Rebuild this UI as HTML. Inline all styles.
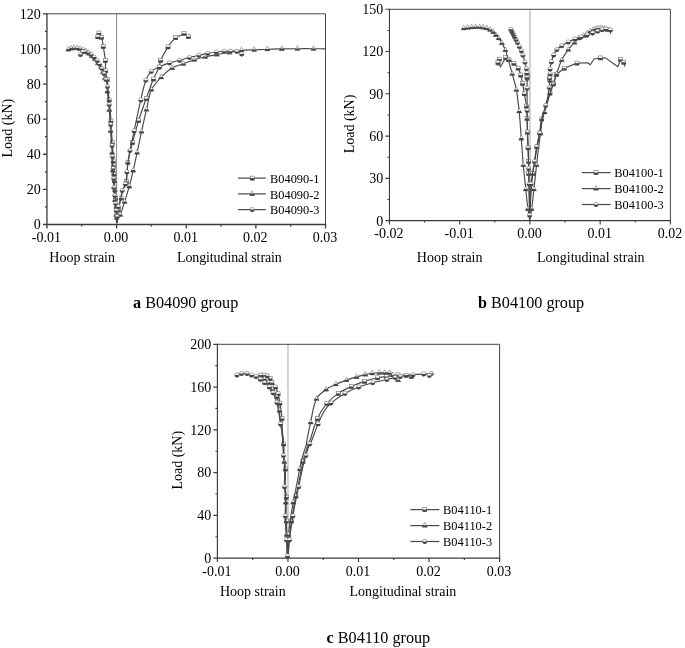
<!DOCTYPE html>
<html><head><meta charset="utf-8"><title>Load-strain curves</title>
<style>html,body{margin:0;padding:0;background:#fff}svg{display:block}text{font-family:"Liberation Serif",serif;fill:#000}</style>
</head><body>
<svg width="685" height="648" viewBox="0 0 685 648">
<rect width="685" height="648" fill="#fff"/>
<g id="chart-a">
<line x1="116.59" y1="13.8" x2="116.59" y2="224.5" stroke="#8a8a8a" stroke-width="1.0"/>
<g transform="translate(0,0.6)">
<path d="M97.8 36.2L98.9 32.4C98.9 32.4 101.09 35.09 101.6 36.7C102.54 39.67 102.7 42.83 103.2 45.9C103.97 50.59 104.93 55.27 105.4 60C105.73 63.38 105.28 66.81 105.6 70.2C105.88 73.14 106.64 76.01 107.2 78.9C107.27 79.27 107.47 79.62 107.5 80C107.77 83.33 107.82 86.67 108.1 90C108.35 93.01 108.78 96 109.1 99C109.42 102 109.73 105 110 108C110.3 111.33 110.58 114.66 110.8 118C111.02 121.33 111.1 124.67 111.3 128C111.54 132 111.83 136 112.1 140C112.33 143.33 112.63 146.66 112.8 150C112.97 153.33 112.95 156.67 113.1 160C113.28 164 113.56 168 113.8 172C114.06 176.33 114.32 180.67 114.6 185C114.82 188.33 115.02 191.67 115.3 195C115.52 197.67 115.86 200.33 116.1 203C116.36 206 116.61 209 116.8 212C117.01 215.33 117.3 222 117.3 222C117.3 222 117.27 215.32 117.6 212C117.8 210 118.42 208.06 118.9 206.1C119.58 203.32 120.46 200.59 121.1 197.8C121.7 195.19 121.77 192.45 122.6 189.9C123.28 187.8 124.7 186.02 125.6 184C126.04 183.01 126.46 181.98 126.6 180.9C127 177.75 126.99 174.57 127.2 171.4C127.42 168.17 127.42 164.91 127.9 161.7C128.49 157.76 129.49 153.88 130.4 150C131.03 147.32 131.77 144.66 132.5 142C134.51 134.66 136.34 127.27 138.6 120C140.91 112.59 143.6 105.31 146.2 98C148.53 91.44 150.75 84.84 153.4 78.4C155.09 74.29 157.58 70.54 159.2 66.4C160.03 64.27 159.78 61.8 160.7 59.7C162.74 55.04 165.19 50.54 168 46.3C170.21 42.97 172.78 39.83 175.7 37.1C176.82 36.05 178.54 35.91 179.9 35.2C181.31 34.47 184 32.8 184 32.8L188.4 36" fill="none" stroke="#484848" stroke-width="1.15" stroke-linejoin="round"/>
<rect x="107.14" y="97.4" width="4" height="4" fill="#fff" stroke="#666" stroke-width="0.55"/>
<rect x="106.94" y="99.4" width="4.4" height="2.2" fill="#444"/>
<rect x="108.92" y="118.5" width="4" height="4" fill="#fff" stroke="#666" stroke-width="0.55"/>
<rect x="108.72" y="120.5" width="4.4" height="2.2" fill="#444"/>
<rect x="110.25" y="140.1" width="4" height="4" fill="#fff" stroke="#666" stroke-width="0.55"/>
<rect x="110.05" y="142.1" width="4.4" height="2.2" fill="#444"/>
<rect x="111.13" y="158.5" width="4" height="4" fill="#fff" stroke="#666" stroke-width="0.55"/>
<rect x="110.93" y="160.5" width="4.4" height="2.2" fill="#444"/>
<rect x="111.38" y="162.8" width="4" height="4" fill="#fff" stroke="#666" stroke-width="0.55"/>
<rect x="111.18" y="164.8" width="4.4" height="2.2" fill="#444"/>
<rect x="111.89" y="171.5" width="4" height="4" fill="#fff" stroke="#666" stroke-width="0.55"/>
<rect x="111.69" y="173.5" width="4.4" height="2.2" fill="#444"/>
<rect x="112.3" y="178.2" width="4" height="4" fill="#fff" stroke="#666" stroke-width="0.55"/>
<rect x="112.1" y="180.2" width="4.4" height="2.2" fill="#444"/>
<rect x="112.91" y="187.5" width="4" height="4" fill="#fff" stroke="#666" stroke-width="0.55"/>
<rect x="112.71" y="189.5" width="4.4" height="2.2" fill="#444"/>
<rect x="113.55" y="195.5" width="4" height="4" fill="#fff" stroke="#666" stroke-width="0.55"/>
<rect x="113.35" y="197.5" width="4.4" height="2.2" fill="#444"/>
<rect x="114.35" y="204.2" width="4" height="4" fill="#fff" stroke="#666" stroke-width="0.55"/>
<rect x="114.15" y="206.2" width="4.4" height="2.2" fill="#444"/>
<rect x="114.9" y="212" width="4" height="4" fill="#fff" stroke="#666" stroke-width="0.55"/>
<rect x="114.7" y="214" width="4.4" height="2.2" fill="#444"/>
<rect x="105.2" y="76.9" width="4" height="4" fill="#fff" stroke="#666" stroke-width="0.55"/>
<rect x="105" y="78.9" width="4.4" height="2.2" fill="#444"/>
<rect x="103.6" y="68.2" width="4" height="4" fill="#fff" stroke="#666" stroke-width="0.55"/>
<rect x="103.4" y="70.2" width="4.4" height="2.2" fill="#444"/>
<rect x="103.4" y="58" width="4" height="4" fill="#fff" stroke="#666" stroke-width="0.55"/>
<rect x="103.2" y="60" width="4.4" height="2.2" fill="#444"/>
<rect x="101.2" y="43.9" width="4" height="4" fill="#fff" stroke="#666" stroke-width="0.55"/>
<rect x="101" y="45.9" width="4.4" height="2.2" fill="#444"/>
<rect x="99.6" y="34.7" width="4" height="4" fill="#fff" stroke="#666" stroke-width="0.55"/>
<rect x="99.4" y="36.7" width="4.4" height="2.2" fill="#444"/>
<rect x="96.9" y="30.4" width="4" height="4" fill="#fff" stroke="#666" stroke-width="0.55"/>
<rect x="96.7" y="32.4" width="4.4" height="2.2" fill="#444"/>
<rect x="95.8" y="34.2" width="4" height="4" fill="#fff" stroke="#666" stroke-width="0.55"/>
<rect x="95.6" y="36.2" width="4.4" height="2.2" fill="#444"/>
<rect x="144.2" y="96" width="4" height="4" fill="#fff" stroke="#666" stroke-width="0.55"/>
<rect x="144" y="98" width="4.4" height="2.2" fill="#444"/>
<rect x="136.6" y="118" width="4" height="4" fill="#fff" stroke="#666" stroke-width="0.55"/>
<rect x="136.4" y="120" width="4.4" height="2.2" fill="#444"/>
<rect x="130.5" y="140" width="4" height="4" fill="#fff" stroke="#666" stroke-width="0.55"/>
<rect x="130.3" y="142" width="4.4" height="2.2" fill="#444"/>
<rect x="125.9" y="159.7" width="4" height="4" fill="#fff" stroke="#666" stroke-width="0.55"/>
<rect x="125.7" y="161.7" width="4.4" height="2.2" fill="#444"/>
<rect x="124.6" y="178.9" width="4" height="4" fill="#fff" stroke="#666" stroke-width="0.55"/>
<rect x="124.4" y="180.9" width="4.4" height="2.2" fill="#444"/>
<rect x="119.16" y="195.5" width="4" height="4" fill="#fff" stroke="#666" stroke-width="0.55"/>
<rect x="118.96" y="197.5" width="4.4" height="2.2" fill="#444"/>
<rect x="116.26" y="207" width="4" height="4" fill="#fff" stroke="#666" stroke-width="0.55"/>
<rect x="116.06" y="209" width="4.4" height="2.2" fill="#444"/>
<rect x="151.4" y="76.4" width="4" height="4" fill="#fff" stroke="#666" stroke-width="0.55"/>
<rect x="151.2" y="78.4" width="4.4" height="2.2" fill="#444"/>
<rect x="157.2" y="64.4" width="4" height="4" fill="#fff" stroke="#666" stroke-width="0.55"/>
<rect x="157" y="66.4" width="4.4" height="2.2" fill="#444"/>
<rect x="158.7" y="57.7" width="4" height="4" fill="#fff" stroke="#666" stroke-width="0.55"/>
<rect x="158.5" y="59.7" width="4.4" height="2.2" fill="#444"/>
<rect x="166" y="44.3" width="4" height="4" fill="#fff" stroke="#666" stroke-width="0.55"/>
<rect x="165.8" y="46.3" width="4.4" height="2.2" fill="#444"/>
<rect x="173.7" y="35.1" width="4" height="4" fill="#fff" stroke="#666" stroke-width="0.55"/>
<rect x="173.5" y="37.1" width="4.4" height="2.2" fill="#444"/>
<rect x="182" y="30.8" width="4" height="4" fill="#fff" stroke="#666" stroke-width="0.55"/>
<rect x="181.8" y="32.8" width="4.4" height="2.2" fill="#444"/>
<rect x="186.4" y="34" width="4" height="4" fill="#fff" stroke="#666" stroke-width="0.55"/>
<rect x="186.2" y="36" width="4.4" height="2.2" fill="#444"/>
<path d="M68.4 48.8C68.4 48.8 70.1 48.01 71 47.8C71.98 47.57 73 47.52 74 47.5C75 47.48 76.01 47.57 77 47.7C78.01 47.83 79.01 48.04 80 48.3C81.02 48.57 82.03 48.89 83 49.3C84.03 49.73 85.03 50.24 86 50.8C87.04 51.41 88.05 52.06 89 52.8C90.06 53.63 91.02 54.57 92 55.5C93.03 56.47 94.08 57.43 95 58.5C96.08 59.77 97 61.17 98 62.5C99 63.83 100.19 65.04 101 66.5C101.87 68.07 102.39 69.81 103 71.5C103.72 73.48 104.16 75.57 105 77.5C105.4 78.42 106.52 79.01 106.7 80C107.3 83.28 107.02 86.67 107.3 90C107.55 93.01 107.98 96 108.3 99C108.62 102 108.93 105 109.2 108C109.5 111.33 109.78 114.66 110 118C110.22 121.33 110.3 124.67 110.5 128C110.74 132 111.03 136 111.3 140C111.53 143.33 111.83 146.66 112 150C112.17 153.33 112.15 156.67 112.3 160C112.48 164 112.76 168 113 172C113.26 176.33 113.52 180.67 113.8 185C114.02 188.33 114.22 191.67 114.5 195C114.72 197.67 115.06 200.33 115.3 203C115.56 206 115.81 209 116 212C116.21 215.33 116.5 222 116.5 222C116.5 222 119.16 216.88 120.2 214.2C121.86 209.94 123.2 205.56 124.6 201.2C126.24 196.09 127.88 190.98 129.3 185.8C130.75 180.51 131.97 175.15 133.2 169.8C134.71 163.22 136.09 156.6 137.5 150C138.85 143.67 140.11 137.32 141.5 131C143.11 123.65 144.76 116.32 146.5 109C148.09 102.32 148.68 95.27 151.5 89C153.65 84.23 157.5 80.39 161.1 76.6C164.37 73.15 167.94 69.87 172 67.4C175.44 65.31 179.53 64.51 183.3 63.1C186.93 61.74 190.51 60.26 194.2 59.1C197.82 57.96 201.5 57.05 205.2 56.2C209.07 55.31 212.99 54.61 216.9 53.9C221.02 53.15 225.17 52.51 229.3 51.8C233.33 51.11 237.33 50.13 241.4 49.7C245.65 49.26 249.93 49.38 254.2 49.2C258.6 49.01 263 48.74 267.4 48.6C272.2 48.44 277 48.38 281.8 48.3C287 48.21 292.2 48.13 297.4 48.1C302.77 48.07 308.13 48.06 313.5 48.1C317.5 48.13 325.5 48.3 325.5 48.3" fill="none" stroke="#484848" stroke-width="1.15" stroke-linejoin="round"/>
<path d="M107.39 87.7L109.84 92.35L104.94 92.35Z" fill="#fff" stroke="#666" stroke-width="0.55" stroke-linejoin="round"/>
<path d="M105.76 90.5L109.01 90.5L110.09 92.55L104.69 92.55Z" fill="#444"/>
<path d="M109.3 106.1L111.75 110.75L106.85 110.75Z" fill="#fff" stroke="#666" stroke-width="0.55" stroke-linejoin="round"/>
<path d="M107.67 108.9L110.92 108.9L112 110.95L106.6 110.95Z" fill="#444"/>
<path d="M110.65 127.1L113.1 131.75L108.2 131.75Z" fill="#fff" stroke="#666" stroke-width="0.55" stroke-linejoin="round"/>
<path d="M109.02 129.9L112.27 129.9L113.35 131.95L107.95 131.95Z" fill="#444"/>
<path d="M112.06 148.8L114.51 153.45L109.61 153.45Z" fill="#fff" stroke="#666" stroke-width="0.55" stroke-linejoin="round"/>
<path d="M110.43 151.6L113.68 151.6L114.76 153.65L109.36 153.65Z" fill="#444"/>
<path d="M112.87 166.7L115.32 171.35L110.42 171.35Z" fill="#fff" stroke="#666" stroke-width="0.55" stroke-linejoin="round"/>
<path d="M111.25 169.5L114.5 169.5L115.57 171.55L110.17 171.55Z" fill="#444"/>
<path d="M113.9 183.3L116.35 187.95L111.45 187.95Z" fill="#fff" stroke="#666" stroke-width="0.55" stroke-linejoin="round"/>
<path d="M112.27 186.1L115.52 186.1L116.6 188.15L111.2 188.15Z" fill="#444"/>
<path d="M114.94 196.3L117.39 200.95L112.49 200.95Z" fill="#fff" stroke="#666" stroke-width="0.55" stroke-linejoin="round"/>
<path d="M113.31 199.1L116.57 199.1L117.64 201.15L112.24 201.15Z" fill="#444"/>
<path d="M116.11 211.1L118.56 215.75L113.66 215.75Z" fill="#fff" stroke="#666" stroke-width="0.55" stroke-linejoin="round"/>
<path d="M114.48 213.9L117.74 213.9L118.81 215.95L113.41 215.95Z" fill="#444"/>
<path d="M105 74.4L107.45 79.05L102.55 79.05Z" fill="#fff" stroke="#666" stroke-width="0.55" stroke-linejoin="round"/>
<path d="M103.37 77.2L106.63 77.2L107.7 79.25L102.3 79.25Z" fill="#444"/>
<path d="M103 68.4L105.45 73.05L100.55 73.05Z" fill="#fff" stroke="#666" stroke-width="0.55" stroke-linejoin="round"/>
<path d="M101.37 71.2L104.63 71.2L105.7 73.25L100.3 73.25Z" fill="#444"/>
<path d="M101 63.4L103.45 68.05L98.55 68.05Z" fill="#fff" stroke="#666" stroke-width="0.55" stroke-linejoin="round"/>
<path d="M99.37 66.2L102.63 66.2L103.7 68.25L98.3 68.25Z" fill="#444"/>
<path d="M98 59.4L100.45 64.05L95.55 64.05Z" fill="#fff" stroke="#666" stroke-width="0.55" stroke-linejoin="round"/>
<path d="M96.37 62.2L99.63 62.2L100.7 64.25L95.3 64.25Z" fill="#444"/>
<path d="M95 55.4L97.45 60.05L92.55 60.05Z" fill="#fff" stroke="#666" stroke-width="0.55" stroke-linejoin="round"/>
<path d="M93.37 58.2L96.63 58.2L97.7 60.25L92.3 60.25Z" fill="#444"/>
<path d="M92 52.4L94.45 57.05L89.55 57.05Z" fill="#fff" stroke="#666" stroke-width="0.55" stroke-linejoin="round"/>
<path d="M90.37 55.2L93.63 55.2L94.7 57.25L89.3 57.25Z" fill="#444"/>
<path d="M89 49.7L91.45 54.35L86.55 54.35Z" fill="#fff" stroke="#666" stroke-width="0.55" stroke-linejoin="round"/>
<path d="M87.37 52.5L90.63 52.5L91.7 54.55L86.3 54.55Z" fill="#444"/>
<path d="M86 47.7L88.45 52.35L83.55 52.35Z" fill="#fff" stroke="#666" stroke-width="0.55" stroke-linejoin="round"/>
<path d="M84.37 50.5L87.63 50.5L88.7 52.55L83.3 52.55Z" fill="#444"/>
<path d="M83 46.2L85.45 50.85L80.55 50.85Z" fill="#fff" stroke="#666" stroke-width="0.55" stroke-linejoin="round"/>
<path d="M81.37 49L84.63 49L85.7 51.05L80.3 51.05Z" fill="#444"/>
<path d="M80 45.2L82.45 49.85L77.55 49.85Z" fill="#fff" stroke="#666" stroke-width="0.55" stroke-linejoin="round"/>
<path d="M78.37 48L81.63 48L82.7 50.05L77.3 50.05Z" fill="#444"/>
<path d="M77 44.6L79.45 49.25L74.55 49.25Z" fill="#fff" stroke="#666" stroke-width="0.55" stroke-linejoin="round"/>
<path d="M75.37 47.4L78.63 47.4L79.7 49.45L74.3 49.45Z" fill="#444"/>
<path d="M74 44.4L76.45 49.05L71.55 49.05Z" fill="#fff" stroke="#666" stroke-width="0.55" stroke-linejoin="round"/>
<path d="M72.37 47.2L75.63 47.2L76.7 49.25L71.3 49.25Z" fill="#444"/>
<path d="M71 44.7L73.45 49.35L68.55 49.35Z" fill="#fff" stroke="#666" stroke-width="0.55" stroke-linejoin="round"/>
<path d="M69.37 47.5L72.63 47.5L73.7 49.55L68.3 49.55Z" fill="#444"/>
<path d="M68.4 45.7L70.85 50.35L65.95 50.35Z" fill="#fff" stroke="#666" stroke-width="0.55" stroke-linejoin="round"/>
<path d="M66.77 48.5L70.03 48.5L71.1 50.55L65.7 50.55Z" fill="#444"/>
<path d="M146.5 105.9L148.95 110.55L144.05 110.55Z" fill="#fff" stroke="#666" stroke-width="0.55" stroke-linejoin="round"/>
<path d="M144.87 108.7L148.13 108.7L149.2 110.75L143.8 110.75Z" fill="#444"/>
<path d="M141.5 127.9L143.95 132.55L139.05 132.55Z" fill="#fff" stroke="#666" stroke-width="0.55" stroke-linejoin="round"/>
<path d="M139.87 130.7L143.13 130.7L144.2 132.75L138.8 132.75Z" fill="#444"/>
<path d="M137.09 148.8L139.54 153.45L134.64 153.45Z" fill="#fff" stroke="#666" stroke-width="0.55" stroke-linejoin="round"/>
<path d="M135.46 151.6L138.71 151.6L139.79 153.65L134.39 153.65Z" fill="#444"/>
<path d="M133.2 166.7L135.65 171.35L130.75 171.35Z" fill="#fff" stroke="#666" stroke-width="0.55" stroke-linejoin="round"/>
<path d="M131.57 169.5L134.83 169.5L135.9 171.55L130.5 171.55Z" fill="#444"/>
<path d="M129.3 182.7L131.75 187.35L126.85 187.35Z" fill="#fff" stroke="#666" stroke-width="0.55" stroke-linejoin="round"/>
<path d="M127.67 185.5L130.93 185.5L132 187.55L126.6 187.55Z" fill="#444"/>
<path d="M124.6 198.1L127.05 202.75L122.15 202.75Z" fill="#fff" stroke="#666" stroke-width="0.55" stroke-linejoin="round"/>
<path d="M122.97 200.9L126.23 200.9L127.3 202.95L121.9 202.95Z" fill="#444"/>
<path d="M120.2 211.1L122.65 215.75L117.75 215.75Z" fill="#fff" stroke="#666" stroke-width="0.55" stroke-linejoin="round"/>
<path d="M118.57 213.9L121.83 213.9L122.9 215.95L117.5 215.95Z" fill="#444"/>
<path d="M151.5 85.9L153.95 90.55L149.05 90.55Z" fill="#fff" stroke="#666" stroke-width="0.55" stroke-linejoin="round"/>
<path d="M149.87 88.7L153.13 88.7L154.2 90.75L148.8 90.75Z" fill="#444"/>
<path d="M161.1 73.5L163.55 78.15L158.65 78.15Z" fill="#fff" stroke="#666" stroke-width="0.55" stroke-linejoin="round"/>
<path d="M159.47 76.3L162.73 76.3L163.8 78.35L158.4 78.35Z" fill="#444"/>
<path d="M172 64.3L174.45 68.95L169.55 68.95Z" fill="#fff" stroke="#666" stroke-width="0.55" stroke-linejoin="round"/>
<path d="M170.37 67.1L173.63 67.1L174.7 69.15L169.3 69.15Z" fill="#444"/>
<path d="M183.3 60L185.75 64.65L180.85 64.65Z" fill="#fff" stroke="#666" stroke-width="0.55" stroke-linejoin="round"/>
<path d="M181.67 62.8L184.93 62.8L186 64.85L180.6 64.85Z" fill="#444"/>
<path d="M194.2 56L196.65 60.65L191.75 60.65Z" fill="#fff" stroke="#666" stroke-width="0.55" stroke-linejoin="round"/>
<path d="M192.57 58.8L195.83 58.8L196.9 60.85L191.5 60.85Z" fill="#444"/>
<path d="M205.2 53.1L207.65 57.75L202.75 57.75Z" fill="#fff" stroke="#666" stroke-width="0.55" stroke-linejoin="round"/>
<path d="M203.57 55.9L206.83 55.9L207.9 57.95L202.5 57.95Z" fill="#444"/>
<path d="M216.9 50.8L219.35 55.45L214.45 55.45Z" fill="#fff" stroke="#666" stroke-width="0.55" stroke-linejoin="round"/>
<path d="M215.27 53.6L218.53 53.6L219.6 55.65L214.2 55.65Z" fill="#444"/>
<path d="M229.3 48.7L231.75 53.35L226.85 53.35Z" fill="#fff" stroke="#666" stroke-width="0.55" stroke-linejoin="round"/>
<path d="M227.67 51.5L230.93 51.5L232 53.55L226.6 53.55Z" fill="#444"/>
<path d="M241.4 46.6L243.85 51.25L238.95 51.25Z" fill="#fff" stroke="#666" stroke-width="0.55" stroke-linejoin="round"/>
<path d="M239.77 49.4L243.03 49.4L244.1 51.45L238.7 51.45Z" fill="#444"/>
<path d="M254.2 46.1L256.65 50.75L251.75 50.75Z" fill="#fff" stroke="#666" stroke-width="0.55" stroke-linejoin="round"/>
<path d="M252.57 48.9L255.83 48.9L256.9 50.95L251.5 50.95Z" fill="#444"/>
<path d="M267.4 45.5L269.85 50.15L264.95 50.15Z" fill="#fff" stroke="#666" stroke-width="0.55" stroke-linejoin="round"/>
<path d="M265.77 48.3L269.03 48.3L270.1 50.35L264.7 50.35Z" fill="#444"/>
<path d="M281.8 45.2L284.25 49.85L279.35 49.85Z" fill="#fff" stroke="#666" stroke-width="0.55" stroke-linejoin="round"/>
<path d="M280.17 48L283.43 48L284.5 50.05L279.1 50.05Z" fill="#444"/>
<path d="M297.4 45L299.85 49.65L294.95 49.65Z" fill="#fff" stroke="#666" stroke-width="0.55" stroke-linejoin="round"/>
<path d="M295.77 47.8L299.03 47.8L300.1 49.85L294.7 49.85Z" fill="#444"/>
<path d="M313.5 45L315.95 49.65L311.05 49.65Z" fill="#fff" stroke="#666" stroke-width="0.55" stroke-linejoin="round"/>
<path d="M311.87 47.8L315.13 47.8L316.2 49.85L310.8 49.85Z" fill="#444"/>
<path d="M80.5 54L82.7 51.3C82.7 51.3 84.23 50.9 85 51C86.05 51.14 87.06 51.53 88 52C89.07 52.54 90.04 53.28 91 54C92.04 54.78 93.08 55.58 94 56.5C95.09 57.59 96.05 58.79 97 60C97.89 61.13 98.74 62.28 99.5 63.5C100.41 64.96 101.27 66.45 102 68C102.77 69.62 103.39 71.31 104 73C104.72 74.98 105.15 77.07 106 79C106.2 79.45 107.1 80 107.1 80C107.1 80 107.42 86.67 107.7 90C107.95 93.01 108.38 96 108.7 99C109.02 102 109.33 105 109.6 108C109.9 111.33 110.18 114.66 110.4 118C110.62 121.33 110.7 124.67 110.9 128C111.14 132 111.43 136 111.7 140C111.93 143.33 112.23 146.66 112.4 150C112.57 153.33 112.55 156.67 112.7 160C112.88 164 113.16 168 113.4 172C113.66 176.33 113.92 180.67 114.2 185C114.42 188.33 114.62 191.67 114.9 195C115.12 197.67 115.46 200.33 115.7 203C115.96 206 116.21 209 116.4 212C116.61 215.33 116.9 222 116.9 222C116.9 222 116.97 215.32 117.3 212C117.5 210 118.02 208.05 118.5 206.1C119.19 203.31 120.16 200.6 120.8 197.8C121.4 195.19 121.36 192.44 122.2 189.9C122.85 187.95 124.43 186.41 125.2 184.5C125.78 183.08 126 181.52 126.2 180C126.57 177.15 126.6 174.26 126.9 171.4C127.3 167.59 127.75 163.79 128.3 160C128.78 156.65 129.35 153.32 130 150C131.25 143.65 132.67 137.33 134 131C135.61 123.33 137.05 115.63 138.8 108C140.98 98.5 142.69 88.84 145.8 79.6C146.9 76.32 148.84 73.23 151.3 70.8C153.45 68.68 156.47 67.68 159.2 66.4C162.52 64.84 165.92 63.44 169.4 62.3C172.73 61.21 176.21 60.61 179.6 59.7C182.88 58.81 186.11 57.75 189.4 56.9C192.55 56.08 195.73 55.43 198.9 54.7C201.83 54.03 204.74 53.26 207.7 52.7C210.58 52.16 213.49 51.75 216.4 51.4C218.99 51.09 221.59 50.85 224.2 50.7C226.26 50.58 228.33 50.58 230.4 50.6C232.57 50.62 234.8 50.28 236.9 50.8C238.67 51.24 241.7 53.4 241.7 53.4" fill="none" stroke="#484848" stroke-width="1.15" stroke-linejoin="round"/>
<circle cx="107.46" cy="86" r="2.2" fill="#fff" stroke="#666" stroke-width="0.55"/>
<path d="M105.06 86A2.4 2.4 0 0 0 109.86 86Z" fill="#444"/>
<circle cx="109.2" cy="104" r="2.2" fill="#fff" stroke="#666" stroke-width="0.55"/>
<path d="M106.8 104A2.4 2.4 0 0 0 111.6 104Z" fill="#444"/>
<circle cx="110.7" cy="124" r="2.2" fill="#fff" stroke="#666" stroke-width="0.55"/>
<path d="M108.3 124A2.4 2.4 0 0 0 113.1 124Z" fill="#444"/>
<circle cx="112.05" cy="145" r="2.2" fill="#fff" stroke="#666" stroke-width="0.55"/>
<path d="M109.65 145A2.4 2.4 0 0 0 114.45 145Z" fill="#444"/>
<circle cx="112.58" cy="156" r="2.2" fill="#fff" stroke="#666" stroke-width="0.55"/>
<path d="M110.18 156A2.4 2.4 0 0 0 114.98 156Z" fill="#444"/>
<circle cx="113.17" cy="168" r="2.2" fill="#fff" stroke="#666" stroke-width="0.55"/>
<path d="M110.77 168A2.4 2.4 0 0 0 115.57 168Z" fill="#444"/>
<circle cx="113.77" cy="178" r="2.2" fill="#fff" stroke="#666" stroke-width="0.55"/>
<path d="M111.37 178A2.4 2.4 0 0 0 116.17 178Z" fill="#444"/>
<circle cx="114.34" cy="187" r="2.2" fill="#fff" stroke="#666" stroke-width="0.55"/>
<path d="M111.94 187A2.4 2.4 0 0 0 116.74 187Z" fill="#444"/>
<circle cx="114.9" cy="195" r="2.2" fill="#fff" stroke="#666" stroke-width="0.55"/>
<path d="M112.5 195A2.4 2.4 0 0 0 117.3 195Z" fill="#444"/>
<circle cx="115.7" cy="203" r="2.2" fill="#fff" stroke="#666" stroke-width="0.55"/>
<path d="M113.3 203A2.4 2.4 0 0 0 118.1 203Z" fill="#444"/>
<circle cx="116.24" cy="210" r="2.2" fill="#fff" stroke="#666" stroke-width="0.55"/>
<path d="M113.84 210A2.4 2.4 0 0 0 118.64 210Z" fill="#444"/>
<circle cx="116.68" cy="217.5" r="2.2" fill="#fff" stroke="#666" stroke-width="0.55"/>
<path d="M114.28 217.5A2.4 2.4 0 0 0 119.08 217.5Z" fill="#444"/>
<circle cx="106" cy="79" r="2.2" fill="#fff" stroke="#666" stroke-width="0.55"/>
<path d="M103.6 79A2.4 2.4 0 0 0 108.4 79Z" fill="#444"/>
<circle cx="104" cy="73" r="2.2" fill="#fff" stroke="#666" stroke-width="0.55"/>
<path d="M101.6 73A2.4 2.4 0 0 0 106.4 73Z" fill="#444"/>
<circle cx="102" cy="68" r="2.2" fill="#fff" stroke="#666" stroke-width="0.55"/>
<path d="M99.6 68A2.4 2.4 0 0 0 104.4 68Z" fill="#444"/>
<circle cx="99.5" cy="63.5" r="2.2" fill="#fff" stroke="#666" stroke-width="0.55"/>
<path d="M97.1 63.5A2.4 2.4 0 0 0 101.9 63.5Z" fill="#444"/>
<circle cx="97" cy="60" r="2.2" fill="#fff" stroke="#666" stroke-width="0.55"/>
<path d="M94.6 60A2.4 2.4 0 0 0 99.4 60Z" fill="#444"/>
<circle cx="94" cy="56.5" r="2.2" fill="#fff" stroke="#666" stroke-width="0.55"/>
<path d="M91.6 56.5A2.4 2.4 0 0 0 96.4 56.5Z" fill="#444"/>
<circle cx="91" cy="54" r="2.2" fill="#fff" stroke="#666" stroke-width="0.55"/>
<path d="M88.6 54A2.4 2.4 0 0 0 93.4 54Z" fill="#444"/>
<circle cx="88" cy="52" r="2.2" fill="#fff" stroke="#666" stroke-width="0.55"/>
<path d="M85.6 52A2.4 2.4 0 0 0 90.4 52Z" fill="#444"/>
<circle cx="85" cy="51" r="2.2" fill="#fff" stroke="#666" stroke-width="0.55"/>
<path d="M82.6 51A2.4 2.4 0 0 0 87.4 51Z" fill="#444"/>
<circle cx="82.7" cy="51.3" r="2.2" fill="#fff" stroke="#666" stroke-width="0.55"/>
<path d="M80.3 51.3A2.4 2.4 0 0 0 85.1 51.3Z" fill="#444"/>
<circle cx="80.5" cy="54" r="2.2" fill="#fff" stroke="#666" stroke-width="0.55"/>
<path d="M78.1 54A2.4 2.4 0 0 0 82.9 54Z" fill="#444"/>
<circle cx="140.92" cy="99.4" r="2.2" fill="#fff" stroke="#666" stroke-width="0.55"/>
<path d="M138.52 99.4A2.4 2.4 0 0 0 143.32 99.4Z" fill="#444"/>
<circle cx="134.15" cy="130.3" r="2.2" fill="#fff" stroke="#666" stroke-width="0.55"/>
<path d="M131.75 130.3A2.4 2.4 0 0 0 136.55 130.3Z" fill="#444"/>
<circle cx="130" cy="150" r="2.2" fill="#fff" stroke="#666" stroke-width="0.55"/>
<path d="M127.6 150A2.4 2.4 0 0 0 132.4 150Z" fill="#444"/>
<circle cx="126.9" cy="171.4" r="2.2" fill="#fff" stroke="#666" stroke-width="0.55"/>
<path d="M124.5 171.4A2.4 2.4 0 0 0 129.3 171.4Z" fill="#444"/>
<circle cx="125.44" cy="183.4" r="2.2" fill="#fff" stroke="#666" stroke-width="0.55"/>
<path d="M123.04 183.4A2.4 2.4 0 0 0 127.84 183.4Z" fill="#444"/>
<circle cx="122.2" cy="189.9" r="2.2" fill="#fff" stroke="#666" stroke-width="0.55"/>
<path d="M119.8 189.9A2.4 2.4 0 0 0 124.6 189.9Z" fill="#444"/>
<circle cx="118.5" cy="206.1" r="2.2" fill="#fff" stroke="#666" stroke-width="0.55"/>
<path d="M116.1 206.1A2.4 2.4 0 0 0 120.9 206.1Z" fill="#444"/>
<circle cx="116.98" cy="216" r="2.2" fill="#fff" stroke="#666" stroke-width="0.55"/>
<path d="M114.58 216A2.4 2.4 0 0 0 119.38 216Z" fill="#444"/>
<circle cx="145.8" cy="79.6" r="2.2" fill="#fff" stroke="#666" stroke-width="0.55"/>
<path d="M143.4 79.6A2.4 2.4 0 0 0 148.2 79.6Z" fill="#444"/>
<circle cx="151.3" cy="70.8" r="2.2" fill="#fff" stroke="#666" stroke-width="0.55"/>
<path d="M148.9 70.8A2.4 2.4 0 0 0 153.7 70.8Z" fill="#444"/>
<circle cx="159.2" cy="66.4" r="2.2" fill="#fff" stroke="#666" stroke-width="0.55"/>
<path d="M156.8 66.4A2.4 2.4 0 0 0 161.6 66.4Z" fill="#444"/>
<circle cx="169.4" cy="62.3" r="2.2" fill="#fff" stroke="#666" stroke-width="0.55"/>
<path d="M167 62.3A2.4 2.4 0 0 0 171.8 62.3Z" fill="#444"/>
<circle cx="179.6" cy="59.7" r="2.2" fill="#fff" stroke="#666" stroke-width="0.55"/>
<path d="M177.2 59.7A2.4 2.4 0 0 0 182 59.7Z" fill="#444"/>
<circle cx="189.4" cy="56.9" r="2.2" fill="#fff" stroke="#666" stroke-width="0.55"/>
<path d="M187 56.9A2.4 2.4 0 0 0 191.8 56.9Z" fill="#444"/>
<circle cx="198.9" cy="54.7" r="2.2" fill="#fff" stroke="#666" stroke-width="0.55"/>
<path d="M196.5 54.7A2.4 2.4 0 0 0 201.3 54.7Z" fill="#444"/>
<circle cx="207.7" cy="52.7" r="2.2" fill="#fff" stroke="#666" stroke-width="0.55"/>
<path d="M205.3 52.7A2.4 2.4 0 0 0 210.1 52.7Z" fill="#444"/>
<circle cx="216.4" cy="51.4" r="2.2" fill="#fff" stroke="#666" stroke-width="0.55"/>
<path d="M214 51.4A2.4 2.4 0 0 0 218.8 51.4Z" fill="#444"/>
<circle cx="224.2" cy="50.7" r="2.2" fill="#fff" stroke="#666" stroke-width="0.55"/>
<path d="M221.8 50.7A2.4 2.4 0 0 0 226.6 50.7Z" fill="#444"/>
<circle cx="230.4" cy="50.6" r="2.2" fill="#fff" stroke="#666" stroke-width="0.55"/>
<path d="M228 50.6A2.4 2.4 0 0 0 232.8 50.6Z" fill="#444"/>
<circle cx="236.9" cy="50.8" r="2.2" fill="#fff" stroke="#666" stroke-width="0.55"/>
<path d="M234.5 50.8A2.4 2.4 0 0 0 239.3 50.8Z" fill="#444"/>
<circle cx="241.7" cy="53.4" r="2.2" fill="#fff" stroke="#666" stroke-width="0.55"/>
<path d="M239.3 53.4A2.4 2.4 0 0 0 244.1 53.4Z" fill="#444"/>
</g>
<path d="M46.95 13.8H325.5V224.5" fill="none" stroke="#3c3c3c" stroke-width="0.95"/>
<path d="M46.95 13.8V224.5H325.5" fill="none" stroke="#3c3c3c" stroke-width="1.3" stroke-linecap="square"/>
<path d="M46.95 224.5v4M116.59 224.5v4M186.23 224.5v4M255.86 224.5v4M325.5 224.5v4M81.77 224.5v2M151.41 224.5v2M221.04 224.5v2M290.68 224.5v2M46.95 224.5h-4M46.95 189.38h-4M46.95 154.27h-4M46.95 119.15h-4M46.95 84.03h-4M46.95 48.92h-4M46.95 13.8h-4M46.95 206.94h-2M46.95 171.82h-2M46.95 136.71h-2M46.95 101.59h-2M46.95 66.48h-2M46.95 31.36h-2" stroke="#3c3c3c" stroke-width="1.3" fill="none"/>
<text x="46.45" y="242.3" font-size="14" text-anchor="middle">-0.01</text>
<text x="116.09" y="242.3" font-size="14" text-anchor="middle">0.00</text>
<text x="185.73" y="242.3" font-size="14" text-anchor="middle">0.01</text>
<text x="255.36" y="242.3" font-size="14" text-anchor="middle">0.02</text>
<text x="325" y="242.3" font-size="14" text-anchor="middle">0.03</text>
<text x="40.75" y="229.4" font-size="14" text-anchor="end">0</text>
<text x="40.75" y="194.28" font-size="14" text-anchor="end">20</text>
<text x="40.75" y="159.17" font-size="14" text-anchor="end">40</text>
<text x="40.75" y="124.05" font-size="14" text-anchor="end">60</text>
<text x="40.75" y="88.93" font-size="14" text-anchor="end">80</text>
<text x="40.75" y="53.82" font-size="14" text-anchor="end">100</text>
<text x="40.75" y="18.7" font-size="14" text-anchor="end">120</text>
<line x1="238" y1="178.1" x2="265.8" y2="178.1" stroke="#484848" stroke-width="1.2"/>
<rect x="250.2" y="176.1" width="4" height="4" fill="#fff" stroke="#666" stroke-width="0.55"/>
<rect x="250" y="178.1" width="4.4" height="2.2" fill="#444"/>
<text x="270" y="182.7" font-size="12.4" text-anchor="start">B04090-1</text>
<line x1="238" y1="193.9" x2="265.8" y2="193.9" stroke="#484848" stroke-width="1.2"/>
<path d="M252.2 190.8L254.65 195.45L249.75 195.45Z" fill="#fff" stroke="#666" stroke-width="0.55" stroke-linejoin="round"/>
<path d="M250.57 193.6L253.83 193.6L254.9 195.65L249.5 195.65Z" fill="#444"/>
<text x="270" y="198.5" font-size="12.4" text-anchor="start">B04090-2</text>
<line x1="238" y1="209.6" x2="265.8" y2="209.6" stroke="#484848" stroke-width="1.2"/>
<circle cx="252.2" cy="209.6" r="2.2" fill="#fff" stroke="#666" stroke-width="0.55"/>
<path d="M249.8 209.6A2.4 2.4 0 0 0 254.6 209.6Z" fill="#444"/>
<text x="270" y="214.2" font-size="12.4" text-anchor="start">B04090-3</text>
<text x="49.3" y="262.1" font-size="14" text-anchor="start">Hoop strain</text>
<text x="177" y="262.1" font-size="14" text-anchor="start" textLength="104.8" lengthAdjust="spacing">Longitudinal strain</text>
<text x="12.4" y="128.1" font-size="14" text-anchor="middle" transform="rotate(-90 12.4 128.1)">Load (kN)</text>
<text x="133" y="307.8" font-size="16.2" text-anchor="start"><tspan font-weight="bold">a</tspan> B04090 group</text>
</g>
<g id="chart-b">
<line x1="529.92" y1="9.3" x2="529.92" y2="220.6" stroke="#d2d2d2" stroke-width="2.0"/>
<g transform="translate(0,0.5)">
<path d="M497.9 65.6L497.9 62.1L499.3 58.6L500.2 66.5L501.7 64.2L505.6 57.2L509 59.3L513.9 62.8C513.9 62.8 517.03 65.76 518.1 67.6C519.36 69.76 520.11 72.2 520.8 74.6C521.58 77.31 521.98 80.12 522.5 82.9C523.15 86.36 523.69 89.84 524.3 93.3C525.02 97.4 526.05 101.46 526.5 105.6C526.95 109.71 526.83 113.87 527 118C527.19 122.57 527.41 127.13 527.6 131.7C527.81 136.9 528 142.1 528.2 147.3C528.37 151.87 528.61 156.43 528.7 161C528.78 165 528.63 169 528.7 173C528.83 180.33 529.14 187.67 529.3 195C529.44 201.33 529.49 207.67 529.6 214C529.63 215.67 529.7 219 529.7 219C529.7 219 529.92 215.67 530 214C530.29 207.67 530.37 201.32 530.8 195C531.3 187.65 531.94 180.31 532.8 173C533.27 168.97 534.17 165.01 534.8 161C535.57 156.11 536.12 151.18 537 146.3C537.82 141.74 539.11 137.27 539.9 132.7C540.71 127.99 540.85 123.18 541.8 118.5C542.32 115.92 543.52 113.52 544.3 111C544.92 108.98 545.38 106.92 546 104.9C547.28 100.78 548.59 96.67 550 92.6C551.15 89.27 552.58 86.04 553.7 82.7C554.64 79.9 556.2 74.2 556.2 74.2L564.2 67.7L577 62.6L587.6 62.3L590.2 64.3L594.1 58.5L600.7 57.4L605.4 57.4L617.9 66.2L620.4 58.9L623.8 61.8L624.8 66.2" fill="none" stroke="#484848" stroke-width="1.15" stroke-linejoin="round"/>
<rect x="526.7" y="171" width="4" height="4" fill="#fff" stroke="#666" stroke-width="0.55"/>
<rect x="526.5" y="173" width="4.4" height="2.2" fill="#444"/>
<rect x="526.7" y="159" width="4" height="4" fill="#fff" stroke="#666" stroke-width="0.55"/>
<rect x="526.5" y="161" width="4.4" height="2.2" fill="#444"/>
<rect x="526.2" y="145.3" width="4" height="4" fill="#fff" stroke="#666" stroke-width="0.55"/>
<rect x="526" y="147.3" width="4.4" height="2.2" fill="#444"/>
<rect x="525.6" y="129.7" width="4" height="4" fill="#fff" stroke="#666" stroke-width="0.55"/>
<rect x="525.4" y="131.7" width="4.4" height="2.2" fill="#444"/>
<rect x="525" y="116" width="4" height="4" fill="#fff" stroke="#666" stroke-width="0.55"/>
<rect x="524.8" y="118" width="4.4" height="2.2" fill="#444"/>
<rect x="524.5" y="103.6" width="4" height="4" fill="#fff" stroke="#666" stroke-width="0.55"/>
<rect x="524.3" y="105.6" width="4.4" height="2.2" fill="#444"/>
<rect x="522.3" y="91.3" width="4" height="4" fill="#fff" stroke="#666" stroke-width="0.55"/>
<rect x="522.1" y="93.3" width="4.4" height="2.2" fill="#444"/>
<rect x="520.5" y="80.9" width="4" height="4" fill="#fff" stroke="#666" stroke-width="0.55"/>
<rect x="520.3" y="82.9" width="4.4" height="2.2" fill="#444"/>
<rect x="518.8" y="72.6" width="4" height="4" fill="#fff" stroke="#666" stroke-width="0.55"/>
<rect x="518.6" y="74.6" width="4.4" height="2.2" fill="#444"/>
<rect x="516.1" y="65.6" width="4" height="4" fill="#fff" stroke="#666" stroke-width="0.55"/>
<rect x="515.9" y="67.6" width="4.4" height="2.2" fill="#444"/>
<rect x="511.9" y="60.8" width="4" height="4" fill="#fff" stroke="#666" stroke-width="0.55"/>
<rect x="511.7" y="62.8" width="4.4" height="2.2" fill="#444"/>
<rect x="507" y="57.3" width="4" height="4" fill="#fff" stroke="#666" stroke-width="0.55"/>
<rect x="506.8" y="59.3" width="4.4" height="2.2" fill="#444"/>
<rect x="503.6" y="55.2" width="4" height="4" fill="#fff" stroke="#666" stroke-width="0.55"/>
<rect x="503.4" y="57.2" width="4.4" height="2.2" fill="#444"/>
<rect x="497.3" y="56.6" width="4" height="4" fill="#fff" stroke="#666" stroke-width="0.55"/>
<rect x="497.1" y="58.6" width="4.4" height="2.2" fill="#444"/>
<rect x="495.9" y="60.1" width="4" height="4" fill="#fff" stroke="#666" stroke-width="0.55"/>
<rect x="495.7" y="62.1" width="4.4" height="2.2" fill="#444"/>
<rect x="530.8" y="171" width="4" height="4" fill="#fff" stroke="#666" stroke-width="0.55"/>
<rect x="530.6" y="173" width="4.4" height="2.2" fill="#444"/>
<rect x="535" y="144.3" width="4" height="4" fill="#fff" stroke="#666" stroke-width="0.55"/>
<rect x="534.8" y="146.3" width="4.4" height="2.2" fill="#444"/>
<rect x="537.9" y="130.7" width="4" height="4" fill="#fff" stroke="#666" stroke-width="0.55"/>
<rect x="537.7" y="132.7" width="4.4" height="2.2" fill="#444"/>
<rect x="539.8" y="116.5" width="4" height="4" fill="#fff" stroke="#666" stroke-width="0.55"/>
<rect x="539.6" y="118.5" width="4.4" height="2.2" fill="#444"/>
<rect x="548" y="90.6" width="4" height="4" fill="#fff" stroke="#666" stroke-width="0.55"/>
<rect x="547.8" y="92.6" width="4.4" height="2.2" fill="#444"/>
<rect x="551.7" y="80.7" width="4" height="4" fill="#fff" stroke="#666" stroke-width="0.55"/>
<rect x="551.5" y="82.7" width="4.4" height="2.2" fill="#444"/>
<rect x="554.2" y="72.2" width="4" height="4" fill="#fff" stroke="#666" stroke-width="0.55"/>
<rect x="554" y="74.2" width="4.4" height="2.2" fill="#444"/>
<rect x="562.2" y="65.7" width="4" height="4" fill="#fff" stroke="#666" stroke-width="0.55"/>
<rect x="562" y="67.7" width="4.4" height="2.2" fill="#444"/>
<rect x="575" y="60.6" width="4" height="4" fill="#fff" stroke="#666" stroke-width="0.55"/>
<rect x="574.8" y="62.6" width="4.4" height="2.2" fill="#444"/>
<rect x="598.7" y="55.4" width="4" height="4" fill="#fff" stroke="#666" stroke-width="0.55"/>
<rect x="598.5" y="57.4" width="4.4" height="2.2" fill="#444"/>
<rect x="618.4" y="56.9" width="4" height="4" fill="#fff" stroke="#666" stroke-width="0.55"/>
<rect x="618.2" y="58.9" width="4.4" height="2.2" fill="#444"/>
<rect x="621.8" y="59.8" width="4" height="4" fill="#fff" stroke="#666" stroke-width="0.55"/>
<rect x="621.6" y="61.8" width="4.4" height="2.2" fill="#444"/>
<path d="M463.8 27.8C463.8 27.8 466.4 27.38 467.7 27.2C469.03 27.01 470.36 26.82 471.7 26.7C473 26.59 474.3 26.53 475.6 26.5C476.93 26.47 478.27 26.42 479.6 26.5C480.81 26.57 482.01 26.74 483.2 26.95C484.41 27.17 485.63 27.4 486.8 27.8C487.94 28.19 489.05 28.71 490.1 29.3C491.19 29.91 492.27 30.57 493.2 31.4C494.19 32.28 494.93 33.4 495.8 34.4C496.76 35.5 497.83 36.53 498.7 37.7C499.86 39.27 500.94 40.9 501.9 42.6C503.18 44.87 504.47 47.16 505.4 49.6C506.61 52.75 507.37 56.06 508.3 59.3C509.63 63.92 510.94 68.56 512.2 73.2C513.64 78.52 515.26 83.8 516.4 89.2C517.15 92.75 517.38 96.4 517.85 100C518.32 103.6 518.87 107.19 519.2 110.8C520.02 119.82 520.61 128.87 521.3 137.9C521.98 146.77 522.52 155.64 523.3 164.5C524.02 172.61 524.95 180.7 525.8 188.8C526.48 195.33 527.06 201.88 527.9 208.4C528.36 211.95 529.7 219 529.7 219C529.7 219 531.11 211.96 531.6 208.4C532.51 201.88 533.16 195.34 533.9 188.8C534.82 180.7 535.7 172.6 536.6 164.5C537.27 158.43 537.84 152.36 538.6 146.3C539.17 141.75 539.98 137.24 540.6 132.7C541.25 127.97 541.51 123.19 542.4 118.5C542.85 116.16 543.9 113.98 544.6 111.7C545.3 109.44 545.93 107.17 546.6 104.9C547.57 101.6 548.49 98.29 549.5 95C550.63 91.32 551.79 87.65 553 84C554.16 80.49 555.36 76.99 556.6 73.5C558.26 68.85 559.57 64.05 561.7 59.6C563.49 55.87 565.86 52.44 568.3 49.1C570.14 46.58 572.36 44.36 574.5 42.1C575.93 40.59 577.33 39.03 579 37.8C580.43 36.75 582.19 36.24 583.7 35.3C584.93 34.53 585.99 33.51 587.2 32.7C588.19 32.04 589.27 31.51 590.3 30.9C591.3 30.31 592.24 29.58 593.3 29.1C594.15 28.71 595.1 28.56 596 28.3C596.73 28.09 597.45 27.8 598.2 27.7C598.93 27.6 599.67 27.68 600.4 27.7C601.1 27.72 601.81 27.69 602.5 27.8C603.25 27.92 603.97 28.18 604.7 28.4C605.44 28.62 606.16 28.9 606.9 29.1C607.63 29.3 609.1 29.6 609.1 29.6" fill="none" stroke="#484848" stroke-width="1.15" stroke-linejoin="round"/>
<path d="M527.9 205.3L530.35 209.95L525.45 209.95Z" fill="#fff" stroke="#666" stroke-width="0.55" stroke-linejoin="round"/>
<path d="M526.27 208.1L529.53 208.1L530.6 210.15L525.2 210.15Z" fill="#444"/>
<path d="M525.8 185.7L528.25 190.35L523.35 190.35Z" fill="#fff" stroke="#666" stroke-width="0.55" stroke-linejoin="round"/>
<path d="M524.17 188.5L527.43 188.5L528.5 190.55L523.1 190.55Z" fill="#444"/>
<path d="M523.3 161.4L525.75 166.05L520.85 166.05Z" fill="#fff" stroke="#666" stroke-width="0.55" stroke-linejoin="round"/>
<path d="M521.67 164.2L524.93 164.2L526 166.25L520.6 166.25Z" fill="#444"/>
<path d="M521.3 134.8L523.75 139.45L518.85 139.45Z" fill="#fff" stroke="#666" stroke-width="0.55" stroke-linejoin="round"/>
<path d="M519.67 137.6L522.93 137.6L524 139.65L518.6 139.65Z" fill="#444"/>
<path d="M519.2 107.7L521.65 112.35L516.75 112.35Z" fill="#fff" stroke="#666" stroke-width="0.55" stroke-linejoin="round"/>
<path d="M517.57 110.5L520.83 110.5L521.9 112.55L516.5 112.55Z" fill="#444"/>
<path d="M516.4 86.1L518.85 90.75L513.95 90.75Z" fill="#fff" stroke="#666" stroke-width="0.55" stroke-linejoin="round"/>
<path d="M514.77 88.9L518.03 88.9L519.1 90.95L513.7 90.95Z" fill="#444"/>
<path d="M512.2 70.1L514.65 74.75L509.75 74.75Z" fill="#fff" stroke="#666" stroke-width="0.55" stroke-linejoin="round"/>
<path d="M510.57 72.9L513.83 72.9L514.9 74.95L509.5 74.95Z" fill="#444"/>
<path d="M508.3 56.2L510.75 60.85L505.85 60.85Z" fill="#fff" stroke="#666" stroke-width="0.55" stroke-linejoin="round"/>
<path d="M506.67 59L509.93 59L511 61.05L505.6 61.05Z" fill="#444"/>
<path d="M505.4 46.5L507.85 51.15L502.95 51.15Z" fill="#fff" stroke="#666" stroke-width="0.55" stroke-linejoin="round"/>
<path d="M503.77 49.3L507.03 49.3L508.1 51.35L502.7 51.35Z" fill="#444"/>
<path d="M501.9 39.5L504.35 44.15L499.45 44.15Z" fill="#fff" stroke="#666" stroke-width="0.55" stroke-linejoin="round"/>
<path d="M500.27 42.3L503.53 42.3L504.6 44.35L499.2 44.35Z" fill="#444"/>
<path d="M498.7 34.6L501.15 39.25L496.25 39.25Z" fill="#fff" stroke="#666" stroke-width="0.55" stroke-linejoin="round"/>
<path d="M497.07 37.4L500.33 37.4L501.4 39.45L496 39.45Z" fill="#444"/>
<path d="M495.8 31.3L498.25 35.95L493.35 35.95Z" fill="#fff" stroke="#666" stroke-width="0.55" stroke-linejoin="round"/>
<path d="M494.17 34.1L497.43 34.1L498.5 36.15L493.1 36.15Z" fill="#444"/>
<path d="M493.2 28.3L495.65 32.95L490.75 32.95Z" fill="#fff" stroke="#666" stroke-width="0.55" stroke-linejoin="round"/>
<path d="M491.57 31.1L494.83 31.1L495.9 33.15L490.5 33.15Z" fill="#444"/>
<path d="M490.1 26.2L492.55 30.85L487.65 30.85Z" fill="#fff" stroke="#666" stroke-width="0.55" stroke-linejoin="round"/>
<path d="M488.47 29L491.73 29L492.8 31.05L487.4 31.05Z" fill="#444"/>
<path d="M486.8 24.7L489.25 29.35L484.35 29.35Z" fill="#fff" stroke="#666" stroke-width="0.55" stroke-linejoin="round"/>
<path d="M485.17 27.5L488.43 27.5L489.5 29.55L484.1 29.55Z" fill="#444"/>
<path d="M483.2 23.85L485.65 28.5L480.75 28.5Z" fill="#fff" stroke="#666" stroke-width="0.55" stroke-linejoin="round"/>
<path d="M481.57 26.65L484.83 26.65L485.9 28.7L480.5 28.7Z" fill="#444"/>
<path d="M479.6 23.4L482.05 28.05L477.15 28.05Z" fill="#fff" stroke="#666" stroke-width="0.55" stroke-linejoin="round"/>
<path d="M477.97 26.2L481.23 26.2L482.3 28.25L476.9 28.25Z" fill="#444"/>
<path d="M475.6 23.4L478.05 28.05L473.15 28.05Z" fill="#fff" stroke="#666" stroke-width="0.55" stroke-linejoin="round"/>
<path d="M473.97 26.2L477.23 26.2L478.3 28.25L472.9 28.25Z" fill="#444"/>
<path d="M471.7 23.6L474.15 28.25L469.25 28.25Z" fill="#fff" stroke="#666" stroke-width="0.55" stroke-linejoin="round"/>
<path d="M470.07 26.4L473.33 26.4L474.4 28.45L469 28.45Z" fill="#444"/>
<path d="M467.7 24.1L470.15 28.75L465.25 28.75Z" fill="#fff" stroke="#666" stroke-width="0.55" stroke-linejoin="round"/>
<path d="M466.07 26.9L469.33 26.9L470.4 28.95L465 28.95Z" fill="#444"/>
<path d="M463.8 24.7L466.25 29.35L461.35 29.35Z" fill="#fff" stroke="#666" stroke-width="0.55" stroke-linejoin="round"/>
<path d="M462.17 27.5L465.43 27.5L466.5 29.55L461.1 29.55Z" fill="#444"/>
<path d="M531.6 205.3L534.05 209.95L529.15 209.95Z" fill="#fff" stroke="#666" stroke-width="0.55" stroke-linejoin="round"/>
<path d="M529.97 208.1L533.23 208.1L534.3 210.15L528.9 210.15Z" fill="#444"/>
<path d="M533.9 185.7L536.35 190.35L531.45 190.35Z" fill="#fff" stroke="#666" stroke-width="0.55" stroke-linejoin="round"/>
<path d="M532.27 188.5L535.53 188.5L536.6 190.55L531.2 190.55Z" fill="#444"/>
<path d="M536.6 161.4L539.05 166.05L534.15 166.05Z" fill="#fff" stroke="#666" stroke-width="0.55" stroke-linejoin="round"/>
<path d="M534.97 164.2L538.23 164.2L539.3 166.25L533.9 166.25Z" fill="#444"/>
<path d="M540.6 129.6L543.05 134.25L538.15 134.25Z" fill="#fff" stroke="#666" stroke-width="0.55" stroke-linejoin="round"/>
<path d="M538.97 132.4L542.23 132.4L543.3 134.45L537.9 134.45Z" fill="#444"/>
<path d="M544.6 108.6L547.05 113.25L542.15 113.25Z" fill="#fff" stroke="#666" stroke-width="0.55" stroke-linejoin="round"/>
<path d="M542.97 111.4L546.23 111.4L547.3 113.45L541.9 113.45Z" fill="#444"/>
<path d="M553 80.9L555.45 85.55L550.55 85.55Z" fill="#fff" stroke="#666" stroke-width="0.55" stroke-linejoin="round"/>
<path d="M551.37 83.7L554.63 83.7L555.7 85.75L550.3 85.75Z" fill="#444"/>
<path d="M556.6 70.4L559.05 75.05L554.15 75.05Z" fill="#fff" stroke="#666" stroke-width="0.55" stroke-linejoin="round"/>
<path d="M554.97 73.2L558.23 73.2L559.3 75.25L553.9 75.25Z" fill="#444"/>
<path d="M561.7 56.5L564.15 61.15L559.25 61.15Z" fill="#fff" stroke="#666" stroke-width="0.55" stroke-linejoin="round"/>
<path d="M560.07 59.3L563.33 59.3L564.4 61.35L559 61.35Z" fill="#444"/>
<path d="M568.3 46L570.75 50.65L565.85 50.65Z" fill="#fff" stroke="#666" stroke-width="0.55" stroke-linejoin="round"/>
<path d="M566.67 48.8L569.93 48.8L571 50.85L565.6 50.85Z" fill="#444"/>
<path d="M574.5 39L576.95 43.65L572.05 43.65Z" fill="#fff" stroke="#666" stroke-width="0.55" stroke-linejoin="round"/>
<path d="M572.87 41.8L576.13 41.8L577.2 43.85L571.8 43.85Z" fill="#444"/>
<path d="M579 34.7L581.45 39.35L576.55 39.35Z" fill="#fff" stroke="#666" stroke-width="0.55" stroke-linejoin="round"/>
<path d="M577.37 37.5L580.63 37.5L581.7 39.55L576.3 39.55Z" fill="#444"/>
<path d="M583.7 32.2L586.15 36.85L581.25 36.85Z" fill="#fff" stroke="#666" stroke-width="0.55" stroke-linejoin="round"/>
<path d="M582.07 35L585.33 35L586.4 37.05L581 37.05Z" fill="#444"/>
<path d="M587.2 29.6L589.65 34.25L584.75 34.25Z" fill="#fff" stroke="#666" stroke-width="0.55" stroke-linejoin="round"/>
<path d="M585.57 32.4L588.83 32.4L589.9 34.45L584.5 34.45Z" fill="#444"/>
<path d="M590.3 27.8L592.75 32.45L587.85 32.45Z" fill="#fff" stroke="#666" stroke-width="0.55" stroke-linejoin="round"/>
<path d="M588.67 30.6L591.93 30.6L593 32.65L587.6 32.65Z" fill="#444"/>
<path d="M593.3 26L595.75 30.65L590.85 30.65Z" fill="#fff" stroke="#666" stroke-width="0.55" stroke-linejoin="round"/>
<path d="M591.67 28.8L594.93 28.8L596 30.85L590.6 30.85Z" fill="#444"/>
<path d="M596 25.2L598.45 29.85L593.55 29.85Z" fill="#fff" stroke="#666" stroke-width="0.55" stroke-linejoin="round"/>
<path d="M594.37 28L597.63 28L598.7 30.05L593.3 30.05Z" fill="#444"/>
<path d="M598.2 24.6L600.65 29.25L595.75 29.25Z" fill="#fff" stroke="#666" stroke-width="0.55" stroke-linejoin="round"/>
<path d="M596.57 27.4L599.83 27.4L600.9 29.45L595.5 29.45Z" fill="#444"/>
<path d="M600.4 24.6L602.85 29.25L597.95 29.25Z" fill="#fff" stroke="#666" stroke-width="0.55" stroke-linejoin="round"/>
<path d="M598.77 27.4L602.03 27.4L603.1 29.45L597.7 29.45Z" fill="#444"/>
<path d="M602.5 24.7L604.95 29.35L600.05 29.35Z" fill="#fff" stroke="#666" stroke-width="0.55" stroke-linejoin="round"/>
<path d="M600.87 27.5L604.13 27.5L605.2 29.55L599.8 29.55Z" fill="#444"/>
<path d="M604.7 25.3L607.15 29.95L602.25 29.95Z" fill="#fff" stroke="#666" stroke-width="0.55" stroke-linejoin="round"/>
<path d="M603.07 28.1L606.33 28.1L607.4 30.15L602 30.15Z" fill="#444"/>
<path d="M606.9 26L609.35 30.65L604.45 30.65Z" fill="#fff" stroke="#666" stroke-width="0.55" stroke-linejoin="round"/>
<path d="M605.27 28.8L608.53 28.8L609.6 30.85L604.2 30.85Z" fill="#444"/>
<path d="M609.1 26.5L611.55 31.15L606.65 31.15Z" fill="#fff" stroke="#666" stroke-width="0.55" stroke-linejoin="round"/>
<path d="M607.47 29.3L610.73 29.3L611.8 31.35L606.4 31.35Z" fill="#444"/>
<path d="M510.8 28.8C510.8 28.8 511.33 29.87 511.6 30.4C511.93 31.04 512.27 31.66 512.6 32.3C512.94 32.96 513.27 33.63 513.6 34.3C513.94 35 514.25 35.71 514.6 36.4C515.05 37.28 515.55 38.12 516 39C516.49 39.96 516.94 40.93 517.4 41.9C518.07 43.3 518.75 44.69 519.4 46.1C520.05 47.49 520.72 48.88 521.3 50.3C521.89 51.75 522.42 53.22 522.9 54.7C523.65 57.02 524.39 59.34 525 61.7C525.56 63.88 526.02 66.08 526.4 68.3C526.72 70.15 526.96 72.02 527.1 73.9C527.2 75.26 527.1 76.63 527.1 78C527.1 81.27 527.1 84.53 527.1 87.8C527.1 95.2 527.05 102.6 527.1 110C527.15 117.23 527.24 124.47 527.4 131.7C527.51 136.9 527.71 142.1 527.9 147.3C528.15 154.2 528.49 161.1 528.7 168C528.86 173.2 528.9 178.4 529 183.6C529.1 189.07 529.19 194.53 529.3 200C529.4 204.93 529.55 209.87 529.65 214.8C529.68 216.2 529.7 219 529.7 219C529.7 219 529.85 216.2 529.9 214.8C530.08 209.87 530.23 204.93 530.4 200C530.59 194.53 530.58 189.05 531 183.6C531.28 180.04 531.97 176.53 532.5 173C533.1 169 533.77 165 534.4 161C535.17 156.1 535.82 151.18 536.7 146.3C537.52 141.74 538.71 137.26 539.5 132.7C540.31 127.99 540.53 123.18 541.5 118.5C542.04 115.92 543.22 113.52 544 111C544.62 108.98 545.19 106.95 545.7 104.9C546.52 101.61 547.31 98.32 548 95C548.55 92.35 549.08 89.69 549.4 87C549.68 84.68 549.69 82.33 549.8 80C549.89 78.23 549.95 76.47 550 74.7C550.05 72.63 549.88 70.56 550.1 68.5C550.35 66.11 550.8 63.73 551.4 61.4C552 59.05 552.71 56.71 553.7 54.5C554.55 52.59 555.53 50.68 556.9 49.1C558.26 47.53 560.02 46.35 561.75 45.2C563.84 43.81 566.06 42.62 568.3 41.5C570.45 40.42 572.67 39.5 574.9 38.6C576.91 37.79 578.95 37.08 581 36.4C583.05 35.72 585.15 35.19 587.2 34.5C589.02 33.89 590.8 33.15 592.6 32.5C594.3 31.89 596 31.29 597.7 30.7C599.16 30.19 600.6 29.6 602.1 29.2C603.38 28.86 604.68 28.47 606 28.5C607.5 28.54 610.4 29.4 610.4 29.4L610.7 33.4" fill="none" stroke="#484848" stroke-width="1.15" stroke-linejoin="round"/>
<circle cx="529.65" cy="214.8" r="2.2" fill="#fff" stroke="#666" stroke-width="0.55"/>
<path d="M527.25 214.8A2.4 2.4 0 0 0 532.05 214.8Z" fill="#444"/>
<circle cx="529" cy="183.6" r="2.2" fill="#fff" stroke="#666" stroke-width="0.55"/>
<path d="M526.6 183.6A2.4 2.4 0 0 0 531.4 183.6Z" fill="#444"/>
<circle cx="528.7" cy="168" r="2.2" fill="#fff" stroke="#666" stroke-width="0.55"/>
<path d="M526.3 168A2.4 2.4 0 0 0 531.1 168Z" fill="#444"/>
<circle cx="527.9" cy="147.3" r="2.2" fill="#fff" stroke="#666" stroke-width="0.55"/>
<path d="M525.5 147.3A2.4 2.4 0 0 0 530.3 147.3Z" fill="#444"/>
<circle cx="527.4" cy="131.7" r="2.2" fill="#fff" stroke="#666" stroke-width="0.55"/>
<path d="M525 131.7A2.4 2.4 0 0 0 529.8 131.7Z" fill="#444"/>
<circle cx="527.1" cy="110" r="2.2" fill="#fff" stroke="#666" stroke-width="0.55"/>
<path d="M524.7 110A2.4 2.4 0 0 0 529.5 110Z" fill="#444"/>
<circle cx="527.1" cy="87.8" r="2.2" fill="#fff" stroke="#666" stroke-width="0.55"/>
<path d="M524.7 87.8A2.4 2.4 0 0 0 529.5 87.8Z" fill="#444"/>
<circle cx="527.1" cy="78" r="2.2" fill="#fff" stroke="#666" stroke-width="0.55"/>
<path d="M524.7 78A2.4 2.4 0 0 0 529.5 78Z" fill="#444"/>
<circle cx="527.1" cy="73.9" r="2.2" fill="#fff" stroke="#666" stroke-width="0.55"/>
<path d="M524.7 73.9A2.4 2.4 0 0 0 529.5 73.9Z" fill="#444"/>
<circle cx="526.4" cy="68.3" r="2.2" fill="#fff" stroke="#666" stroke-width="0.55"/>
<path d="M524 68.3A2.4 2.4 0 0 0 528.8 68.3Z" fill="#444"/>
<circle cx="525" cy="61.7" r="2.2" fill="#fff" stroke="#666" stroke-width="0.55"/>
<path d="M522.6 61.7A2.4 2.4 0 0 0 527.4 61.7Z" fill="#444"/>
<circle cx="522.9" cy="54.7" r="2.2" fill="#fff" stroke="#666" stroke-width="0.55"/>
<path d="M520.5 54.7A2.4 2.4 0 0 0 525.3 54.7Z" fill="#444"/>
<circle cx="521.3" cy="50.3" r="2.2" fill="#fff" stroke="#666" stroke-width="0.55"/>
<path d="M518.9 50.3A2.4 2.4 0 0 0 523.7 50.3Z" fill="#444"/>
<circle cx="519.4" cy="46.1" r="2.2" fill="#fff" stroke="#666" stroke-width="0.55"/>
<path d="M517 46.1A2.4 2.4 0 0 0 521.8 46.1Z" fill="#444"/>
<circle cx="517.4" cy="41.9" r="2.2" fill="#fff" stroke="#666" stroke-width="0.55"/>
<path d="M515 41.9A2.4 2.4 0 0 0 519.8 41.9Z" fill="#444"/>
<circle cx="516" cy="39" r="2.2" fill="#fff" stroke="#666" stroke-width="0.55"/>
<path d="M513.6 39A2.4 2.4 0 0 0 518.4 39Z" fill="#444"/>
<circle cx="514.6" cy="36.4" r="2.2" fill="#fff" stroke="#666" stroke-width="0.55"/>
<path d="M512.2 36.4A2.4 2.4 0 0 0 517 36.4Z" fill="#444"/>
<circle cx="513.6" cy="34.3" r="2.2" fill="#fff" stroke="#666" stroke-width="0.55"/>
<path d="M511.2 34.3A2.4 2.4 0 0 0 516 34.3Z" fill="#444"/>
<circle cx="512.6" cy="32.3" r="2.2" fill="#fff" stroke="#666" stroke-width="0.55"/>
<path d="M510.2 32.3A2.4 2.4 0 0 0 515 32.3Z" fill="#444"/>
<circle cx="511.6" cy="30.4" r="2.2" fill="#fff" stroke="#666" stroke-width="0.55"/>
<path d="M509.2 30.4A2.4 2.4 0 0 0 514 30.4Z" fill="#444"/>
<circle cx="510.8" cy="28.8" r="2.2" fill="#fff" stroke="#666" stroke-width="0.55"/>
<path d="M508.4 28.8A2.4 2.4 0 0 0 513.2 28.8Z" fill="#444"/>
<circle cx="527.2" cy="75.3" r="2.2" fill="#fff" stroke="#666" stroke-width="0.55"/>
<path d="M524.8 75.3A2.4 2.4 0 0 0 529.6 75.3Z" fill="#444"/>
<circle cx="527" cy="76.8" r="2.2" fill="#fff" stroke="#666" stroke-width="0.55"/>
<path d="M524.6 76.8A2.4 2.4 0 0 0 529.4 76.8Z" fill="#444"/>
<circle cx="526.9" cy="72.5" r="2.2" fill="#fff" stroke="#666" stroke-width="0.55"/>
<path d="M524.5 72.5A2.4 2.4 0 0 0 529.3 72.5Z" fill="#444"/>
<circle cx="531" cy="183.6" r="2.2" fill="#fff" stroke="#666" stroke-width="0.55"/>
<path d="M528.6 183.6A2.4 2.4 0 0 0 533.4 183.6Z" fill="#444"/>
<circle cx="534.4" cy="161" r="2.2" fill="#fff" stroke="#666" stroke-width="0.55"/>
<path d="M532 161A2.4 2.4 0 0 0 536.8 161Z" fill="#444"/>
<circle cx="536.7" cy="146.3" r="2.2" fill="#fff" stroke="#666" stroke-width="0.55"/>
<path d="M534.3 146.3A2.4 2.4 0 0 0 539.1 146.3Z" fill="#444"/>
<circle cx="539.5" cy="132.7" r="2.2" fill="#fff" stroke="#666" stroke-width="0.55"/>
<path d="M537.1 132.7A2.4 2.4 0 0 0 541.9 132.7Z" fill="#444"/>
<circle cx="545.7" cy="104.9" r="2.2" fill="#fff" stroke="#666" stroke-width="0.55"/>
<path d="M543.3 104.9A2.4 2.4 0 0 0 548.1 104.9Z" fill="#444"/>
<circle cx="549.4" cy="87" r="2.2" fill="#fff" stroke="#666" stroke-width="0.55"/>
<path d="M547 87A2.4 2.4 0 0 0 551.8 87Z" fill="#444"/>
<circle cx="549.8" cy="80" r="2.2" fill="#fff" stroke="#666" stroke-width="0.55"/>
<path d="M547.4 80A2.4 2.4 0 0 0 552.2 80Z" fill="#444"/>
<circle cx="550" cy="74.7" r="2.2" fill="#fff" stroke="#666" stroke-width="0.55"/>
<path d="M547.6 74.7A2.4 2.4 0 0 0 552.4 74.7Z" fill="#444"/>
<circle cx="550.1" cy="68.5" r="2.2" fill="#fff" stroke="#666" stroke-width="0.55"/>
<path d="M547.7 68.5A2.4 2.4 0 0 0 552.5 68.5Z" fill="#444"/>
<circle cx="551.4" cy="61.4" r="2.2" fill="#fff" stroke="#666" stroke-width="0.55"/>
<path d="M549 61.4A2.4 2.4 0 0 0 553.8 61.4Z" fill="#444"/>
<circle cx="553.7" cy="54.5" r="2.2" fill="#fff" stroke="#666" stroke-width="0.55"/>
<path d="M551.3 54.5A2.4 2.4 0 0 0 556.1 54.5Z" fill="#444"/>
<circle cx="556.9" cy="49.1" r="2.2" fill="#fff" stroke="#666" stroke-width="0.55"/>
<path d="M554.5 49.1A2.4 2.4 0 0 0 559.3 49.1Z" fill="#444"/>
<circle cx="561.75" cy="45.2" r="2.2" fill="#fff" stroke="#666" stroke-width="0.55"/>
<path d="M559.35 45.2A2.4 2.4 0 0 0 564.15 45.2Z" fill="#444"/>
<circle cx="568.3" cy="41.5" r="2.2" fill="#fff" stroke="#666" stroke-width="0.55"/>
<path d="M565.9 41.5A2.4 2.4 0 0 0 570.7 41.5Z" fill="#444"/>
<circle cx="574.9" cy="38.6" r="2.2" fill="#fff" stroke="#666" stroke-width="0.55"/>
<path d="M572.5 38.6A2.4 2.4 0 0 0 577.3 38.6Z" fill="#444"/>
<circle cx="581" cy="36.4" r="2.2" fill="#fff" stroke="#666" stroke-width="0.55"/>
<path d="M578.6 36.4A2.4 2.4 0 0 0 583.4 36.4Z" fill="#444"/>
<circle cx="587.2" cy="34.5" r="2.2" fill="#fff" stroke="#666" stroke-width="0.55"/>
<path d="M584.8 34.5A2.4 2.4 0 0 0 589.6 34.5Z" fill="#444"/>
<circle cx="592.6" cy="32.5" r="2.2" fill="#fff" stroke="#666" stroke-width="0.55"/>
<path d="M590.2 32.5A2.4 2.4 0 0 0 595 32.5Z" fill="#444"/>
<circle cx="597.7" cy="30.7" r="2.2" fill="#fff" stroke="#666" stroke-width="0.55"/>
<path d="M595.3 30.7A2.4 2.4 0 0 0 600.1 30.7Z" fill="#444"/>
<circle cx="602.1" cy="29.2" r="2.2" fill="#fff" stroke="#666" stroke-width="0.55"/>
<path d="M599.7 29.2A2.4 2.4 0 0 0 604.5 29.2Z" fill="#444"/>
<circle cx="606" cy="28.5" r="2.2" fill="#fff" stroke="#666" stroke-width="0.55"/>
<path d="M603.6 28.5A2.4 2.4 0 0 0 608.4 28.5Z" fill="#444"/>
<circle cx="610.4" cy="29.4" r="2.2" fill="#fff" stroke="#666" stroke-width="0.55"/>
<path d="M608 29.4A2.4 2.4 0 0 0 612.8 29.4Z" fill="#444"/>
<circle cx="549.7" cy="76.3" r="2.2" fill="#fff" stroke="#666" stroke-width="0.55"/>
<path d="M547.3 76.3A2.4 2.4 0 0 0 552.1 76.3Z" fill="#444"/>
<circle cx="550.2" cy="73.2" r="2.2" fill="#fff" stroke="#666" stroke-width="0.55"/>
<path d="M547.8 73.2A2.4 2.4 0 0 0 552.6 73.2Z" fill="#444"/>
<circle cx="549.6" cy="77.8" r="2.2" fill="#fff" stroke="#666" stroke-width="0.55"/>
<path d="M547.2 77.8A2.4 2.4 0 0 0 552 77.8Z" fill="#444"/>
</g>
<path d="M389.45 9.3H670.4V220.6" fill="none" stroke="#3c3c3c" stroke-width="0.95"/>
<path d="M389.45 9.3V220.6H670.4" fill="none" stroke="#3c3c3c" stroke-width="1.1" stroke-linecap="square"/>
<path d="M389.45 220.6v4M459.69 220.6v4M529.92 220.6v4M600.16 220.6v4M670.4 220.6v4M424.57 220.6v2M494.81 220.6v2M565.04 220.6v2M635.28 220.6v2M389.45 220.6h-4M389.45 178.34h-4M389.45 136.08h-4M389.45 93.82h-4M389.45 51.56h-4M389.45 9.3h-4M389.45 199.47h-2M389.45 157.21h-2M389.45 114.95h-2M389.45 72.69h-2M389.45 30.43h-2" stroke="#3c3c3c" stroke-width="1.1" fill="none"/>
<text x="388.95" y="238.4" font-size="14" text-anchor="middle">-0.02</text>
<text x="459.19" y="238.4" font-size="14" text-anchor="middle">-0.01</text>
<text x="529.42" y="238.4" font-size="14" text-anchor="middle">0.00</text>
<text x="599.66" y="238.4" font-size="14" text-anchor="middle">0.01</text>
<text x="669.9" y="238.4" font-size="14" text-anchor="middle">0.02</text>
<text x="383.25" y="225.5" font-size="14" text-anchor="end">0</text>
<text x="383.25" y="183.24" font-size="14" text-anchor="end">30</text>
<text x="383.25" y="140.98" font-size="14" text-anchor="end">60</text>
<text x="383.25" y="98.72" font-size="14" text-anchor="end">90</text>
<text x="383.25" y="56.46" font-size="14" text-anchor="end">120</text>
<text x="383.25" y="14.2" font-size="14" text-anchor="end">150</text>
<line x1="581.8" y1="172.6" x2="610.6" y2="172.6" stroke="#484848" stroke-width="1.2"/>
<rect x="594" y="170.6" width="4" height="4" fill="#fff" stroke="#666" stroke-width="0.55"/>
<rect x="593.8" y="172.6" width="4.4" height="2.2" fill="#444"/>
<text x="614.2" y="177.2" font-size="12.4" text-anchor="start">B04100-1</text>
<line x1="581.8" y1="188.6" x2="610.6" y2="188.6" stroke="#484848" stroke-width="1.2"/>
<path d="M596 185.5L598.45 190.15L593.55 190.15Z" fill="#fff" stroke="#666" stroke-width="0.55" stroke-linejoin="round"/>
<path d="M594.37 188.3L597.63 188.3L598.7 190.35L593.3 190.35Z" fill="#444"/>
<text x="614.2" y="193.2" font-size="12.4" text-anchor="start">B04100-2</text>
<line x1="581.8" y1="204.5" x2="610.6" y2="204.5" stroke="#484848" stroke-width="1.2"/>
<circle cx="596" cy="204.5" r="2.2" fill="#fff" stroke="#666" stroke-width="0.55"/>
<path d="M593.6 204.5A2.4 2.4 0 0 0 598.4 204.5Z" fill="#444"/>
<text x="614.2" y="209.1" font-size="12.4" text-anchor="start">B04100-3</text>
<text x="416.8" y="261.5" font-size="14" text-anchor="start">Hoop strain</text>
<text x="537" y="261.5" font-size="14" text-anchor="start" textLength="107.6" lengthAdjust="spacing">Longitudinal strain</text>
<text x="354.2" y="124" font-size="14" text-anchor="middle" transform="rotate(-90 354.2 124)">Load (kN)</text>
<text x="478" y="308" font-size="16.2" text-anchor="start"><tspan font-weight="bold">b</tspan> B04100 group</text>
</g>
<g id="chart-c">
<line x1="287.95" y1="344.3" x2="287.95" y2="558.1" stroke="#d2d2d2" stroke-width="2.0"/>
<g transform="translate(0,0.5)">
<path d="M260.8 374.6C260.8 374.6 262.88 374.47 263.9 374.6C264.96 374.74 266.06 374.9 267 375.4C268.17 376.02 269.32 376.82 270.1 377.9C271.01 379.16 271.08 380.88 271.9 382.2C272.87 383.77 274.5 384.89 275.4 386.5C276.59 388.63 277.44 390.95 278.1 393.3C278.95 396.34 279.41 399.48 279.9 402.6C280.71 407.72 281.55 412.84 282 418C282.35 421.99 282.03 426.01 282.3 430C282.6 434.51 283.38 438.99 283.7 443.5C283.98 447.33 283.84 451.17 284.1 455C284.41 459.51 285.24 463.98 285.4 468.5C285.61 474.33 285.03 480.17 285.2 486C285.3 489.58 286.1 493.12 286.2 496.7C286.37 502.93 285.86 509.17 286 515.4C286.16 522.94 286.7 530.47 287.1 538C287.4 543.67 287.76 549.33 288.1 555C288.13 555.5 288.2 556.5 288.2 556.5C288.2 556.5 287.87 555.51 287.9 555C288.21 549.33 288.57 543.65 289.2 538C290.04 530.44 291.17 522.92 292.3 515.4C292.97 510.92 293.75 506.45 294.6 502C295.62 496.65 296.81 491.34 297.9 486C298.75 481.84 299.55 477.66 300.4 473.5C301.25 469.33 302 465.14 303 461C303.73 457.96 304.67 454.98 305.6 452C306.44 449.31 307.33 446.64 308.3 444C308.8 442.64 309.52 441.37 310 440C312.53 432.73 314.1 425.1 317.3 418.1C319.78 412.67 323.09 407.59 326.9 403C330.13 399.11 334.05 395.79 338.2 392.9C342.25 390.08 346.8 388.04 351.3 386C355.65 384.03 360.16 382.41 364.7 380.9C368.91 379.5 373.18 378.28 377.5 377.3C380.42 376.64 383.43 376.43 386.4 376C390.27 375.43 394.1 374.52 398 374.3C400.74 374.15 403.48 374.56 406.2 374.9C407.99 375.13 411.5 376 411.5 376" fill="none" stroke="#484848" stroke-width="1.15" stroke-linejoin="round"/>
<rect x="281.7" y="441.5" width="4" height="4" fill="#fff" stroke="#666" stroke-width="0.55"/>
<rect x="281.5" y="443.5" width="4.4" height="2.2" fill="#444"/>
<rect x="283.4" y="466.5" width="4" height="4" fill="#fff" stroke="#666" stroke-width="0.55"/>
<rect x="283.2" y="468.5" width="4.4" height="2.2" fill="#444"/>
<rect x="284.2" y="494.7" width="4" height="4" fill="#fff" stroke="#666" stroke-width="0.55"/>
<rect x="284" y="496.7" width="4.4" height="2.2" fill="#444"/>
<rect x="284.25" y="518.6" width="4" height="4" fill="#fff" stroke="#666" stroke-width="0.55"/>
<rect x="284.05" y="520.6" width="4.4" height="2.2" fill="#444"/>
<rect x="280" y="416" width="4" height="4" fill="#fff" stroke="#666" stroke-width="0.55"/>
<rect x="279.8" y="418" width="4.4" height="2.2" fill="#444"/>
<rect x="277.9" y="400.6" width="4" height="4" fill="#fff" stroke="#666" stroke-width="0.55"/>
<rect x="277.7" y="402.6" width="4.4" height="2.2" fill="#444"/>
<rect x="276.1" y="391.3" width="4" height="4" fill="#fff" stroke="#666" stroke-width="0.55"/>
<rect x="275.9" y="393.3" width="4.4" height="2.2" fill="#444"/>
<rect x="273.4" y="384.5" width="4" height="4" fill="#fff" stroke="#666" stroke-width="0.55"/>
<rect x="273.2" y="386.5" width="4.4" height="2.2" fill="#444"/>
<rect x="269.9" y="380.2" width="4" height="4" fill="#fff" stroke="#666" stroke-width="0.55"/>
<rect x="269.7" y="382.2" width="4.4" height="2.2" fill="#444"/>
<rect x="268.1" y="375.9" width="4" height="4" fill="#fff" stroke="#666" stroke-width="0.55"/>
<rect x="267.9" y="377.9" width="4.4" height="2.2" fill="#444"/>
<rect x="265" y="373.4" width="4" height="4" fill="#fff" stroke="#666" stroke-width="0.55"/>
<rect x="264.8" y="375.4" width="4.4" height="2.2" fill="#444"/>
<rect x="261.9" y="372.6" width="4" height="4" fill="#fff" stroke="#666" stroke-width="0.55"/>
<rect x="261.7" y="374.6" width="4.4" height="2.2" fill="#444"/>
<rect x="258.8" y="372.6" width="4" height="4" fill="#fff" stroke="#666" stroke-width="0.55"/>
<rect x="258.6" y="374.6" width="4.4" height="2.2" fill="#444"/>
<rect x="301" y="459" width="4" height="4" fill="#fff" stroke="#666" stroke-width="0.55"/>
<rect x="300.8" y="461" width="4.4" height="2.2" fill="#444"/>
<rect x="293.92" y="493.6" width="4" height="4" fill="#fff" stroke="#666" stroke-width="0.55"/>
<rect x="293.72" y="495.6" width="4.4" height="2.2" fill="#444"/>
<rect x="289.59" y="518.6" width="4" height="4" fill="#fff" stroke="#666" stroke-width="0.55"/>
<rect x="289.39" y="520.6" width="4.4" height="2.2" fill="#444"/>
<rect x="315.3" y="416.1" width="4" height="4" fill="#fff" stroke="#666" stroke-width="0.55"/>
<rect x="315.1" y="418.1" width="4.4" height="2.2" fill="#444"/>
<rect x="324.9" y="401" width="4" height="4" fill="#fff" stroke="#666" stroke-width="0.55"/>
<rect x="324.7" y="403" width="4.4" height="2.2" fill="#444"/>
<rect x="336.2" y="390.9" width="4" height="4" fill="#fff" stroke="#666" stroke-width="0.55"/>
<rect x="336" y="392.9" width="4.4" height="2.2" fill="#444"/>
<rect x="349.3" y="384" width="4" height="4" fill="#fff" stroke="#666" stroke-width="0.55"/>
<rect x="349.1" y="386" width="4.4" height="2.2" fill="#444"/>
<rect x="362.7" y="378.9" width="4" height="4" fill="#fff" stroke="#666" stroke-width="0.55"/>
<rect x="362.5" y="380.9" width="4.4" height="2.2" fill="#444"/>
<rect x="375.5" y="375.3" width="4" height="4" fill="#fff" stroke="#666" stroke-width="0.55"/>
<rect x="375.3" y="377.3" width="4.4" height="2.2" fill="#444"/>
<rect x="384.4" y="374" width="4" height="4" fill="#fff" stroke="#666" stroke-width="0.55"/>
<rect x="384.2" y="376" width="4.4" height="2.2" fill="#444"/>
<rect x="396" y="372.3" width="4" height="4" fill="#fff" stroke="#666" stroke-width="0.55"/>
<rect x="395.8" y="374.3" width="4.4" height="2.2" fill="#444"/>
<rect x="404.2" y="372.9" width="4" height="4" fill="#fff" stroke="#666" stroke-width="0.55"/>
<rect x="404" y="374.9" width="4.4" height="2.2" fill="#444"/>
<rect x="409.5" y="374" width="4" height="4" fill="#fff" stroke="#666" stroke-width="0.55"/>
<rect x="409.3" y="376" width="4.4" height="2.2" fill="#444"/>
<path d="M264.5 378.5C264.5 378.5 267.14 380.81 268.2 382.2C269.83 384.33 271.1 386.71 272.5 389C274 391.45 275.88 393.72 276.9 396.4C277.94 399.13 278.16 402.11 278.6 405C279.26 409.32 279.63 413.67 280.2 418C280.73 422.01 281.41 425.99 281.9 430C282.45 434.49 282.98 438.99 283.3 443.5C283.58 447.33 283.44 451.17 283.7 455C284.01 459.51 284.84 463.98 285 468.5C285.21 474.33 284.63 480.17 284.8 486C284.9 489.58 285.7 493.12 285.8 496.7C285.97 502.93 285.46 509.17 285.6 515.4C285.76 522.94 286.3 530.47 286.7 538C287 543.67 287.36 549.33 287.7 555C287.73 555.5 287.8 556.5 287.8 556.5C287.8 556.5 286.88 555.59 286.89 555C286.97 549.32 287.47 543.65 288.05 538C288.83 530.44 289.9 522.92 290.97 515.4C291.61 510.92 292.35 506.45 293.16 502C294.14 496.65 295.29 491.34 296.34 486C297.15 481.84 297.92 477.66 298.74 473.5C299.55 469.33 300.27 465.14 301.24 461C301.95 457.97 302.86 454.98 303.76 452C304.58 449.31 305.69 446.72 306.4 444C306.74 442.7 306.65 441.32 306.9 440C308.05 433.92 309.21 427.83 310.6 421.8C312.42 413.9 313.04 405.54 316.5 398.2C318.4 394.17 322.53 391.56 326.1 388.9C329.03 386.72 332.48 385.32 335.8 383.8C339.29 382.21 342.89 380.88 346.5 379.6C349.83 378.42 353.21 377.4 356.6 376.4C359.45 375.56 362.31 374.77 365.2 374.1C367.51 373.57 369.85 373.12 372.2 372.8C374.55 372.48 376.93 372.31 379.3 372.2C381.1 372.11 382.9 372.15 384.7 372.2C386.34 372.25 388.04 372 389.6 372.5C390.85 372.9 391.79 373.96 392.8 374.8C394.59 376.3 398 379.5 398 379.5" fill="none" stroke="#484848" stroke-width="1.15" stroke-linejoin="round"/>
<path d="M284.31 458.2L286.76 462.85L281.86 462.85Z" fill="#fff" stroke="#666" stroke-width="0.55" stroke-linejoin="round"/>
<path d="M282.68 461L285.93 461L287.01 463.05L281.61 463.05Z" fill="#444"/>
<path d="M285.74 498.8L288.19 503.45L283.29 503.45Z" fill="#fff" stroke="#666" stroke-width="0.55" stroke-linejoin="round"/>
<path d="M284.12 501.6L287.37 501.6L288.44 503.65L283.04 503.65Z" fill="#444"/>
<path d="M286.52 531.1L288.97 535.75L284.07 535.75Z" fill="#fff" stroke="#666" stroke-width="0.55" stroke-linejoin="round"/>
<path d="M284.89 533.9L288.14 533.9L289.22 535.95L283.82 535.95Z" fill="#444"/>
<path d="M279.5 406.9L281.95 411.55L277.05 411.55Z" fill="#fff" stroke="#666" stroke-width="0.55" stroke-linejoin="round"/>
<path d="M277.87 409.7L281.13 409.7L282.2 411.75L276.8 411.75Z" fill="#444"/>
<path d="M276.9 393.3L279.35 397.95L274.45 397.95Z" fill="#fff" stroke="#666" stroke-width="0.55" stroke-linejoin="round"/>
<path d="M275.27 396.1L278.53 396.1L279.6 398.15L274.2 398.15Z" fill="#444"/>
<path d="M272.5 385.9L274.95 390.55L270.05 390.55Z" fill="#fff" stroke="#666" stroke-width="0.55" stroke-linejoin="round"/>
<path d="M270.87 388.7L274.13 388.7L275.2 390.75L269.8 390.75Z" fill="#444"/>
<path d="M268.2 379.1L270.65 383.75L265.75 383.75Z" fill="#fff" stroke="#666" stroke-width="0.55" stroke-linejoin="round"/>
<path d="M266.57 381.9L269.83 381.9L270.9 383.95L265.5 383.95Z" fill="#444"/>
<path d="M264.5 375.4L266.95 380.05L262.05 380.05Z" fill="#fff" stroke="#666" stroke-width="0.55" stroke-linejoin="round"/>
<path d="M262.87 378.2L266.13 378.2L267.2 380.25L261.8 380.25Z" fill="#444"/>
<path d="M299.74 465.4L302.19 470.05L297.29 470.05Z" fill="#fff" stroke="#666" stroke-width="0.55" stroke-linejoin="round"/>
<path d="M298.11 468.2L301.36 468.2L302.44 470.25L297.04 470.25Z" fill="#444"/>
<path d="M293.18 498.8L295.63 503.45L290.73 503.45Z" fill="#fff" stroke="#666" stroke-width="0.55" stroke-linejoin="round"/>
<path d="M291.56 501.6L294.81 501.6L295.88 503.65L290.48 503.65Z" fill="#444"/>
<path d="M288.54 531.1L290.99 535.75L286.09 535.75Z" fill="#fff" stroke="#666" stroke-width="0.55" stroke-linejoin="round"/>
<path d="M286.92 533.9L290.17 533.9L291.24 535.95L285.84 535.95Z" fill="#444"/>
<path d="M310.6 418.7L313.05 423.35L308.15 423.35Z" fill="#fff" stroke="#666" stroke-width="0.55" stroke-linejoin="round"/>
<path d="M308.97 421.5L312.23 421.5L313.3 423.55L307.9 423.55Z" fill="#444"/>
<path d="M316.5 395.1L318.95 399.75L314.05 399.75Z" fill="#fff" stroke="#666" stroke-width="0.55" stroke-linejoin="round"/>
<path d="M314.87 397.9L318.13 397.9L319.2 399.95L313.8 399.95Z" fill="#444"/>
<path d="M326.1 385.8L328.55 390.45L323.65 390.45Z" fill="#fff" stroke="#666" stroke-width="0.55" stroke-linejoin="round"/>
<path d="M324.47 388.6L327.73 388.6L328.8 390.65L323.4 390.65Z" fill="#444"/>
<path d="M335.8 380.7L338.25 385.35L333.35 385.35Z" fill="#fff" stroke="#666" stroke-width="0.55" stroke-linejoin="round"/>
<path d="M334.17 383.5L337.43 383.5L338.5 385.55L333.1 385.55Z" fill="#444"/>
<path d="M346.5 376.5L348.95 381.15L344.05 381.15Z" fill="#fff" stroke="#666" stroke-width="0.55" stroke-linejoin="round"/>
<path d="M344.87 379.3L348.13 379.3L349.2 381.35L343.8 381.35Z" fill="#444"/>
<path d="M356.6 373.3L359.05 377.95L354.15 377.95Z" fill="#fff" stroke="#666" stroke-width="0.55" stroke-linejoin="round"/>
<path d="M354.97 376.1L358.23 376.1L359.3 378.15L353.9 378.15Z" fill="#444"/>
<path d="M365.2 371L367.65 375.65L362.75 375.65Z" fill="#fff" stroke="#666" stroke-width="0.55" stroke-linejoin="round"/>
<path d="M363.57 373.8L366.83 373.8L367.9 375.85L362.5 375.85Z" fill="#444"/>
<path d="M372.2 369.7L374.65 374.35L369.75 374.35Z" fill="#fff" stroke="#666" stroke-width="0.55" stroke-linejoin="round"/>
<path d="M370.57 372.5L373.83 372.5L374.9 374.55L369.5 374.55Z" fill="#444"/>
<path d="M379.3 369.1L381.75 373.75L376.85 373.75Z" fill="#fff" stroke="#666" stroke-width="0.55" stroke-linejoin="round"/>
<path d="M377.67 371.9L380.93 371.9L382 373.95L376.6 373.95Z" fill="#444"/>
<path d="M384.7 369.1L387.15 373.75L382.25 373.75Z" fill="#fff" stroke="#666" stroke-width="0.55" stroke-linejoin="round"/>
<path d="M383.07 371.9L386.33 371.9L387.4 373.95L382 373.95Z" fill="#444"/>
<path d="M389.6 369.4L392.05 374.05L387.15 374.05Z" fill="#fff" stroke="#666" stroke-width="0.55" stroke-linejoin="round"/>
<path d="M387.97 372.2L391.23 372.2L392.3 374.25L386.9 374.25Z" fill="#444"/>
<path d="M392.8 371.7L395.25 376.35L390.35 376.35Z" fill="#fff" stroke="#666" stroke-width="0.55" stroke-linejoin="round"/>
<path d="M391.17 374.5L394.43 374.5L395.5 376.55L390.1 376.55Z" fill="#444"/>
<path d="M398 376.4L400.45 381.05L395.55 381.05Z" fill="#fff" stroke="#666" stroke-width="0.55" stroke-linejoin="round"/>
<path d="M396.37 379.2L399.63 379.2L400.7 381.25L395.3 381.25Z" fill="#444"/>
<path d="M237 374.6C237 374.6 240.07 373.26 241.7 373C243.44 372.72 245.26 372.72 247 373C248.57 373.26 249.99 374.09 251.5 374.6C252.96 375.09 254.51 375.33 255.9 376C257.44 376.74 258.81 377.8 260.2 378.8C261.68 379.87 263.1 381.03 264.5 382.2C266.17 383.59 267.99 384.85 269.4 386.5C270.89 388.25 272.1 390.24 273.1 392.3C274.61 395.43 276.09 398.62 276.9 402C278.6 409.1 279.39 416.4 280.6 423.6C280.96 425.73 281.34 427.86 281.6 430C282.14 434.49 282.68 438.99 283 443.5C283.28 447.33 283.14 451.17 283.4 455C283.71 459.51 284.54 463.98 284.7 468.5C284.91 474.33 284.33 480.17 284.5 486C284.6 489.58 285.4 493.12 285.5 496.7C285.67 502.93 285.16 509.17 285.3 515.4C285.46 522.94 286 530.47 286.4 538C286.7 543.67 287.06 549.33 287.4 555C287.43 555.5 287.5 556.5 287.5 556.5C287.5 556.5 288.15 555.55 288.21 555C288.87 549.35 288.98 543.65 289.65 538C290.55 530.44 291.74 522.92 292.93 515.4C293.64 510.92 294.45 506.45 295.34 502C296.4 496.65 297.64 491.34 298.76 486C299.64 481.84 300.48 477.66 301.36 473.5C302.25 469.33 303.03 465.14 304.06 461C304.82 457.96 305.78 454.98 306.74 452C307.6 449.31 308.42 446.61 309.5 444C310.08 442.59 311.11 441.4 311.7 440C313.98 434.53 315.78 428.86 318.1 423.4C319.89 419.19 321.59 414.89 324 411C325.92 407.9 328.24 404.99 331 402.6C335.27 398.9 340.02 395.74 344.9 392.9C349.28 390.35 353.97 388.32 358.7 386.5C363.26 384.75 367.98 383.45 372.7 382.2C377.39 380.95 382.17 380.1 386.9 379C389.64 378.36 392.35 377.61 395.1 377C396.86 376.61 398.62 376.27 400.4 376C404.59 375.37 408.79 374.75 413 374.3C416.56 373.92 420.13 373.73 423.7 373.5C426.23 373.33 431.3 373.1 431.3 373.1L429.3 374.9" fill="none" stroke="#484848" stroke-width="1.15" stroke-linejoin="round"/>
<circle cx="283.4" cy="455" r="2.2" fill="#fff" stroke="#666" stroke-width="0.55"/>
<path d="M281 455A2.4 2.4 0 0 0 285.8 455Z" fill="#444"/>
<circle cx="284.53" cy="486.3" r="2.2" fill="#fff" stroke="#666" stroke-width="0.55"/>
<path d="M282.13 486.3A2.4 2.4 0 0 0 286.93 486.3Z" fill="#444"/>
<circle cx="285.3" cy="515.4" r="2.2" fill="#fff" stroke="#666" stroke-width="0.55"/>
<path d="M282.9 515.4A2.4 2.4 0 0 0 287.7 515.4Z" fill="#444"/>
<circle cx="286.48" cy="539.4" r="2.2" fill="#fff" stroke="#666" stroke-width="0.55"/>
<path d="M284.08 539.4A2.4 2.4 0 0 0 288.88 539.4Z" fill="#444"/>
<circle cx="287.43" cy="555.5" r="2.2" fill="#fff" stroke="#666" stroke-width="0.55"/>
<path d="M285.03 555.5A2.4 2.4 0 0 0 289.83 555.5Z" fill="#444"/>
<circle cx="280.6" cy="423.6" r="2.2" fill="#fff" stroke="#666" stroke-width="0.55"/>
<path d="M278.2 423.6A2.4 2.4 0 0 0 283 423.6Z" fill="#444"/>
<circle cx="276.9" cy="402" r="2.2" fill="#fff" stroke="#666" stroke-width="0.55"/>
<path d="M274.5 402A2.4 2.4 0 0 0 279.3 402Z" fill="#444"/>
<circle cx="273.1" cy="392.3" r="2.2" fill="#fff" stroke="#666" stroke-width="0.55"/>
<path d="M270.7 392.3A2.4 2.4 0 0 0 275.5 392.3Z" fill="#444"/>
<circle cx="269.4" cy="386.5" r="2.2" fill="#fff" stroke="#666" stroke-width="0.55"/>
<path d="M267 386.5A2.4 2.4 0 0 0 271.8 386.5Z" fill="#444"/>
<circle cx="264.5" cy="382.2" r="2.2" fill="#fff" stroke="#666" stroke-width="0.55"/>
<path d="M262.1 382.2A2.4 2.4 0 0 0 266.9 382.2Z" fill="#444"/>
<circle cx="260.2" cy="378.8" r="2.2" fill="#fff" stroke="#666" stroke-width="0.55"/>
<path d="M257.8 378.8A2.4 2.4 0 0 0 262.6 378.8Z" fill="#444"/>
<circle cx="255.9" cy="376" r="2.2" fill="#fff" stroke="#666" stroke-width="0.55"/>
<path d="M253.5 376A2.4 2.4 0 0 0 258.3 376Z" fill="#444"/>
<circle cx="251.5" cy="374.6" r="2.2" fill="#fff" stroke="#666" stroke-width="0.55"/>
<path d="M249.1 374.6A2.4 2.4 0 0 0 253.9 374.6Z" fill="#444"/>
<circle cx="247" cy="373" r="2.2" fill="#fff" stroke="#666" stroke-width="0.55"/>
<path d="M244.6 373A2.4 2.4 0 0 0 249.4 373Z" fill="#444"/>
<circle cx="241.7" cy="373" r="2.2" fill="#fff" stroke="#666" stroke-width="0.55"/>
<path d="M239.3 373A2.4 2.4 0 0 0 244.1 373Z" fill="#444"/>
<circle cx="237" cy="374.6" r="2.2" fill="#fff" stroke="#666" stroke-width="0.55"/>
<path d="M234.6 374.6A2.4 2.4 0 0 0 239.4 374.6Z" fill="#444"/>
<circle cx="309.77" cy="443.5" r="2.2" fill="#fff" stroke="#666" stroke-width="0.55"/>
<path d="M307.38 443.5A2.4 2.4 0 0 0 312.17 443.5Z" fill="#444"/>
<circle cx="305.85" cy="455" r="2.2" fill="#fff" stroke="#666" stroke-width="0.55"/>
<path d="M303.45 455A2.4 2.4 0 0 0 308.25 455Z" fill="#444"/>
<circle cx="298.7" cy="486.3" r="2.2" fill="#fff" stroke="#666" stroke-width="0.55"/>
<path d="M296.3 486.3A2.4 2.4 0 0 0 301.1 486.3Z" fill="#444"/>
<circle cx="292.93" cy="515.4" r="2.2" fill="#fff" stroke="#666" stroke-width="0.55"/>
<path d="M290.53 515.4A2.4 2.4 0 0 0 295.33 515.4Z" fill="#444"/>
<circle cx="289.53" cy="539.4" r="2.2" fill="#fff" stroke="#666" stroke-width="0.55"/>
<path d="M287.13 539.4A2.4 2.4 0 0 0 291.93 539.4Z" fill="#444"/>
<circle cx="318.1" cy="423.4" r="2.2" fill="#fff" stroke="#666" stroke-width="0.55"/>
<path d="M315.7 423.4A2.4 2.4 0 0 0 320.5 423.4Z" fill="#444"/>
<circle cx="331" cy="402.6" r="2.2" fill="#fff" stroke="#666" stroke-width="0.55"/>
<path d="M328.6 402.6A2.4 2.4 0 0 0 333.4 402.6Z" fill="#444"/>
<circle cx="344.9" cy="392.9" r="2.2" fill="#fff" stroke="#666" stroke-width="0.55"/>
<path d="M342.5 392.9A2.4 2.4 0 0 0 347.3 392.9Z" fill="#444"/>
<circle cx="358.7" cy="386.5" r="2.2" fill="#fff" stroke="#666" stroke-width="0.55"/>
<path d="M356.3 386.5A2.4 2.4 0 0 0 361.1 386.5Z" fill="#444"/>
<circle cx="372.7" cy="382.2" r="2.2" fill="#fff" stroke="#666" stroke-width="0.55"/>
<path d="M370.3 382.2A2.4 2.4 0 0 0 375.1 382.2Z" fill="#444"/>
<circle cx="386.9" cy="379" r="2.2" fill="#fff" stroke="#666" stroke-width="0.55"/>
<path d="M384.5 379A2.4 2.4 0 0 0 389.3 379Z" fill="#444"/>
<circle cx="395.1" cy="377" r="2.2" fill="#fff" stroke="#666" stroke-width="0.55"/>
<path d="M392.7 377A2.4 2.4 0 0 0 397.5 377Z" fill="#444"/>
<circle cx="400.4" cy="376" r="2.2" fill="#fff" stroke="#666" stroke-width="0.55"/>
<path d="M398 376A2.4 2.4 0 0 0 402.8 376Z" fill="#444"/>
<circle cx="413" cy="374.3" r="2.2" fill="#fff" stroke="#666" stroke-width="0.55"/>
<path d="M410.6 374.3A2.4 2.4 0 0 0 415.4 374.3Z" fill="#444"/>
<circle cx="423.7" cy="373.5" r="2.2" fill="#fff" stroke="#666" stroke-width="0.55"/>
<path d="M421.3 373.5A2.4 2.4 0 0 0 426.1 373.5Z" fill="#444"/>
<circle cx="431.3" cy="373.1" r="2.2" fill="#fff" stroke="#666" stroke-width="0.55"/>
<path d="M428.9 373.1A2.4 2.4 0 0 0 433.7 373.1Z" fill="#444"/>
<circle cx="429.3" cy="374.9" r="2.2" fill="#fff" stroke="#666" stroke-width="0.55"/>
<path d="M426.9 374.9A2.4 2.4 0 0 0 431.7 374.9Z" fill="#444"/>
</g>
<path d="M217.4 344.3H499.6V558.1" fill="none" stroke="#3c3c3c" stroke-width="0.95"/>
<path d="M217.4 344.3V558.1H499.6" fill="none" stroke="#3c3c3c" stroke-width="1.15" stroke-linecap="square"/>
<path d="M217.4 558.1v4M287.95 558.1v4M358.5 558.1v4M429.05 558.1v4M499.6 558.1v4M252.68 558.1v2M323.23 558.1v2M393.78 558.1v2M464.33 558.1v2M217.4 558.1h-4M217.4 515.34h-4M217.4 472.58h-4M217.4 429.82h-4M217.4 387.06h-4M217.4 344.3h-4M217.4 536.72h-2M217.4 493.96h-2M217.4 451.2h-2M217.4 408.44h-2M217.4 365.68h-2" stroke="#3c3c3c" stroke-width="1.15" fill="none"/>
<text x="216.9" y="575.9" font-size="14" text-anchor="middle">-0.01</text>
<text x="287.45" y="575.9" font-size="14" text-anchor="middle">0.00</text>
<text x="358" y="575.9" font-size="14" text-anchor="middle">0.01</text>
<text x="428.55" y="575.9" font-size="14" text-anchor="middle">0.02</text>
<text x="499.1" y="575.9" font-size="14" text-anchor="middle">0.03</text>
<text x="211.2" y="563" font-size="14" text-anchor="end">0</text>
<text x="211.2" y="520.24" font-size="14" text-anchor="end">40</text>
<text x="211.2" y="477.48" font-size="14" text-anchor="end">80</text>
<text x="211.2" y="434.72" font-size="14" text-anchor="end">120</text>
<text x="211.2" y="391.96" font-size="14" text-anchor="end">160</text>
<text x="211.2" y="349.2" font-size="14" text-anchor="end">200</text>
<line x1="410.4" y1="509.6" x2="439.4" y2="509.6" stroke="#484848" stroke-width="1.2"/>
<rect x="422.8" y="507.6" width="4" height="4" fill="#fff" stroke="#666" stroke-width="0.55"/>
<rect x="422.6" y="509.6" width="4.4" height="2.2" fill="#444"/>
<text x="443" y="514.2" font-size="12.4" text-anchor="start">B04110-1</text>
<line x1="410.4" y1="525.6" x2="439.4" y2="525.6" stroke="#484848" stroke-width="1.2"/>
<path d="M424.8 522.5L427.25 527.15L422.35 527.15Z" fill="#fff" stroke="#666" stroke-width="0.55" stroke-linejoin="round"/>
<path d="M423.17 525.3L426.43 525.3L427.5 527.35L422.1 527.35Z" fill="#444"/>
<text x="443" y="530.2" font-size="12.4" text-anchor="start">B04110-2</text>
<line x1="410.4" y1="541.5" x2="439.4" y2="541.5" stroke="#484848" stroke-width="1.2"/>
<circle cx="424.8" cy="541.5" r="2.2" fill="#fff" stroke="#666" stroke-width="0.55"/>
<path d="M422.4 541.5A2.4 2.4 0 0 0 427.2 541.5Z" fill="#444"/>
<text x="443" y="546.1" font-size="12.4" text-anchor="start">B04110-3</text>
<text x="220" y="596" font-size="14" text-anchor="start">Hoop strain</text>
<text x="349.5" y="596" font-size="14" text-anchor="start" textLength="106.8" lengthAdjust="spacing">Longitudinal strain</text>
<text x="182.2" y="460.2" font-size="14" text-anchor="middle" transform="rotate(-90 182.2 460.2)">Load (kN)</text>
<text x="326.5" y="642.8" font-size="16.2" text-anchor="start"><tspan font-weight="bold">c</tspan> B04110 group</text>
</g>
</svg>
</body></html>
